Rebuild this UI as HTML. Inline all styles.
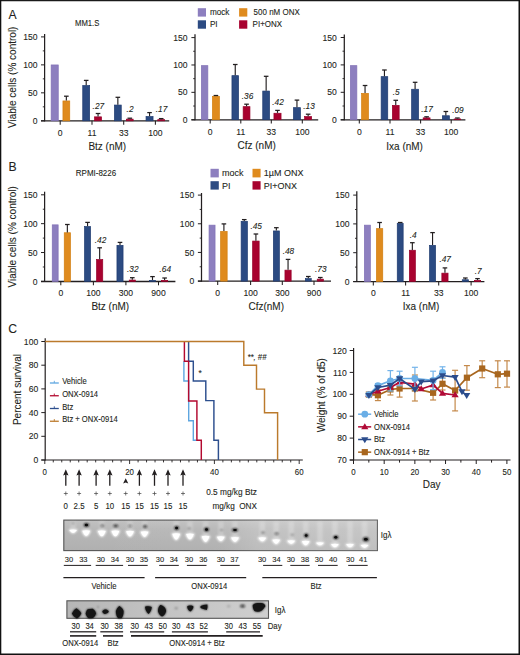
<!DOCTYPE html><html><head><meta charset="utf-8"><style>html,body{margin:0;padding:0;background:#fff;width:520px;height:655px;overflow:hidden;}svg{display:block;font-family:"Liberation Sans",sans-serif;}</style></head><body><svg width="520" height="655" viewBox="0 0 520 655" font-family='"Liberation Sans", sans-serif'>
<defs><filter id="bl1" x="-50%" y="-50%" width="200%" height="200%"><feGaussianBlur stdDeviation="0.9"/></filter><filter id="bl2" x="-50%" y="-50%" width="200%" height="200%"><feGaussianBlur stdDeviation="0.8"/></filter><filter id="bl3" x="-50%" y="-50%" width="200%" height="200%"><feGaussianBlur stdDeviation="0.8"/></filter><linearGradient id="g1" x1="0" y1="0" x2="0" y2="1"><stop offset="0" stop-color="#c2c2c2"/><stop offset="0.3" stop-color="#b8b8b8"/><stop offset="1" stop-color="#b0b0b0"/></linearGradient><linearGradient id="g1h" x1="0" y1="0" x2="1" y2="0"><stop offset="0" stop-color="#fff" stop-opacity="0"/><stop offset="0.5" stop-color="#fff" stop-opacity="0.02"/><stop offset="0.62" stop-color="#fff" stop-opacity="0.16"/><stop offset="1" stop-color="#fff" stop-opacity="0.2"/></linearGradient><linearGradient id="g2" x1="0" y1="0" x2="1" y2="0"><stop offset="0" stop-color="#b6b6b6"/><stop offset="0.5" stop-color="#c4c4c4"/><stop offset="1" stop-color="#cecece"/></linearGradient></defs>
<rect x="0.00" y="0.00" width="520.00" height="655.00" fill="#ffffff" />
<text transform="translate(8.40,18.80) scale(0.9434,1)" font-size="12.93" text-anchor="start" fill="#231F20" stroke="#231F20" stroke-width="0.1" >A</text>
<text transform="translate(8.40,170.90) scale(0.9434,1)" font-size="12.93" text-anchor="start" fill="#231F20" stroke="#231F20" stroke-width="0.1" >B</text>
<text transform="translate(8.20,333.10) scale(0.9434,1)" font-size="12.93" text-anchor="start" fill="#231F20" stroke="#231F20" stroke-width="0.1" >C</text>
<text transform="translate(75.00,25.60) scale(0.9259,1)" font-size="8.32" text-anchor="start" fill="#231F20" stroke="#231F20" stroke-width="0.1" >MM1.S</text>
<text x="0" y="0" font-size="10.60" text-anchor="middle" fill="#231F20" stroke="#231F20" stroke-width="0.1" transform="translate(15.60,77.30) rotate(-90) scale(0.9434,1)">Viable cells (% control)</text>
<rect x="197.80" y="8.20" width="8.20" height="8.40" fill="#8D7FBF" />
<text transform="translate(209.90,15.00) scale(0.9259,1)" font-size="8.86" text-anchor="start" fill="#231F20" stroke="#231F20" stroke-width="0.1" >mock</text>
<rect x="197.80" y="20.30" width="8.20" height="8.40" fill="#2C4B82" />
<text transform="translate(209.90,27.00) scale(0.9259,1)" font-size="8.86" text-anchor="start" fill="#231F20" stroke="#231F20" stroke-width="0.1" >PI</text>
<rect x="239.10" y="8.20" width="8.20" height="8.40" fill="#DF8B1E" />
<text transform="translate(253.60,15.00) scale(0.9259,1)" font-size="8.64" text-anchor="start" fill="#231F20" stroke="#231F20" stroke-width="0.1" >500 nM ONX</text>
<rect x="239.10" y="20.30" width="8.20" height="8.40" fill="#A8022F" />
<text transform="translate(252.60,27.00) scale(0.9259,1)" font-size="8.64" text-anchor="start" fill="#231F20" stroke="#231F20" stroke-width="0.1" >PI+ONX</text>
<line x1="44.60" y1="34.00" x2="44.60" y2="121.40" stroke="#231F20" stroke-width="1.25" />
<line x1="41.00" y1="120.90" x2="169.20" y2="120.90" stroke="#231F20" stroke-width="1.3" />
<line x1="41.00" y1="120.80" x2="44.60" y2="120.80" stroke="#231F20" stroke-width="1.0" />
<text transform="translate(37.60,123.90) scale(0.9259,1)" font-size="9.29" text-anchor="end" fill="#231F20" stroke="#231F20" stroke-width="0.1" >0</text>
<line x1="41.00" y1="92.83" x2="44.60" y2="92.83" stroke="#231F20" stroke-width="1.0" />
<text transform="translate(37.60,95.93) scale(0.9259,1)" font-size="9.29" text-anchor="end" fill="#231F20" stroke="#231F20" stroke-width="0.1" >50</text>
<line x1="41.00" y1="64.87" x2="44.60" y2="64.87" stroke="#231F20" stroke-width="1.0" />
<text transform="translate(37.60,67.97) scale(0.9259,1)" font-size="9.29" text-anchor="end" fill="#231F20" stroke="#231F20" stroke-width="0.1" >100</text>
<line x1="41.00" y1="36.90" x2="44.60" y2="36.90" stroke="#231F20" stroke-width="1.0" />
<text transform="translate(37.60,40.00) scale(0.9259,1)" font-size="9.29" text-anchor="end" fill="#231F20" stroke="#231F20" stroke-width="0.1" >150</text>
<line x1="42.80" y1="106.82" x2="44.60" y2="106.82" stroke="#231F20" stroke-width="0.9" />
<line x1="42.80" y1="78.85" x2="44.60" y2="78.85" stroke="#231F20" stroke-width="0.9" />
<line x1="42.80" y1="50.88" x2="44.60" y2="50.88" stroke="#231F20" stroke-width="0.9" />
<line x1="60.20" y1="120.80" x2="60.20" y2="124.70" stroke="#231F20" stroke-width="1.05" />
<line x1="92.00" y1="120.80" x2="92.00" y2="124.70" stroke="#231F20" stroke-width="1.05" />
<line x1="123.70" y1="120.80" x2="123.70" y2="124.70" stroke="#231F20" stroke-width="1.05" />
<line x1="155.40" y1="120.80" x2="155.40" y2="124.70" stroke="#231F20" stroke-width="1.05" />
<rect x="51.15" y="64.95" width="7.10" height="55.85" fill="#8D7FBF" stroke="#8171B6" stroke-width="0.7"/>
<rect x="62.95" y="100.95" width="6.80" height="19.85" fill="#DF8B1E" stroke="#D27E0E" stroke-width="0.7"/>
<line x1="66.35" y1="96.20" x2="66.35" y2="100.60" stroke="#231F20" stroke-width="1.15" />
<line x1="64.05" y1="96.20" x2="68.65" y2="96.20" stroke="#231F20" stroke-width="1.265" />
<rect x="82.75" y="85.55" width="6.90" height="35.25" fill="#2C4B82" stroke="#1F3B70" stroke-width="0.7"/>
<line x1="86.20" y1="80.40" x2="86.20" y2="85.20" stroke="#231F20" stroke-width="1.15" />
<line x1="83.90" y1="80.40" x2="88.50" y2="80.40" stroke="#231F20" stroke-width="1.265" />
<rect x="94.55" y="116.85" width="7.00" height="3.95" fill="#A8022F" stroke="#96002A" stroke-width="0.7"/>
<line x1="98.05" y1="113.50" x2="98.05" y2="116.50" stroke="#231F20" stroke-width="1.15" />
<line x1="95.75" y1="113.50" x2="100.35" y2="113.50" stroke="#231F20" stroke-width="1.265" />
<rect x="114.45" y="105.05" width="6.80" height="15.75" fill="#2C4B82" stroke="#1F3B70" stroke-width="0.7"/>
<line x1="117.85" y1="97.30" x2="117.85" y2="104.70" stroke="#231F20" stroke-width="1.15" />
<line x1="115.55" y1="97.30" x2="120.15" y2="97.30" stroke="#231F20" stroke-width="1.265" />
<rect x="126.45" y="119.15" width="6.70" height="1.65" fill="#A8022F" stroke="#96002A" stroke-width="0.7"/>
<line x1="129.80" y1="118.20" x2="129.80" y2="118.80" stroke="#231F20" stroke-width="1.15" />
<line x1="127.50" y1="118.20" x2="132.10" y2="118.20" stroke="#231F20" stroke-width="1.265" />
<rect x="146.05" y="116.55" width="7.00" height="4.25" fill="#2C4B82" stroke="#1F3B70" stroke-width="0.7"/>
<line x1="149.55" y1="112.60" x2="149.55" y2="116.20" stroke="#231F20" stroke-width="1.15" />
<line x1="147.25" y1="112.60" x2="151.85" y2="112.60" stroke="#231F20" stroke-width="1.265" />
<rect x="157.75" y="119.65" width="6.90" height="1.15" fill="#A8022F" stroke="#96002A" stroke-width="0.7"/>
<line x1="161.20" y1="118.60" x2="161.20" y2="119.30" stroke="#231F20" stroke-width="1.15" />
<line x1="158.90" y1="118.60" x2="163.50" y2="118.60" stroke="#231F20" stroke-width="1.265" />
<text transform="translate(92.60,108.60) scale(0.9259,1)" font-size="8.96" text-anchor="start" fill="#231F20" stroke="#231F20" stroke-width="0.1" font-style="italic">.27</text>
<text transform="translate(126.60,112.30) scale(0.9259,1)" font-size="8.96" text-anchor="start" fill="#231F20" stroke="#231F20" stroke-width="0.1" font-style="italic">.2</text>
<text transform="translate(155.80,112.30) scale(0.9259,1)" font-size="8.96" text-anchor="start" fill="#231F20" stroke="#231F20" stroke-width="0.1" font-style="italic">.17</text>
<text transform="translate(60.20,135.80) scale(0.9259,1)" font-size="9.29" text-anchor="middle" fill="#231F20" stroke="#231F20" stroke-width="0.1" >0</text>
<text transform="translate(92.00,135.80) scale(0.9259,1)" font-size="9.29" text-anchor="middle" fill="#231F20" stroke="#231F20" stroke-width="0.1" >11</text>
<text transform="translate(123.70,135.80) scale(0.9259,1)" font-size="9.29" text-anchor="middle" fill="#231F20" stroke="#231F20" stroke-width="0.1" >33</text>
<text transform="translate(155.40,135.80) scale(0.9259,1)" font-size="9.29" text-anchor="middle" fill="#231F20" stroke="#231F20" stroke-width="0.1" >100</text>
<text transform="translate(88.40,149.90) scale(0.9434,1)" font-size="10.60" text-anchor="start" fill="#231F20" stroke="#231F20" stroke-width="0.1" >Btz (nM)</text>
<line x1="195.00" y1="34.20" x2="195.00" y2="120.30" stroke="#231F20" stroke-width="1.25" />
<line x1="191.40" y1="119.80" x2="318.20" y2="119.80" stroke="#231F20" stroke-width="1.3" />
<line x1="191.40" y1="119.70" x2="195.00" y2="119.70" stroke="#231F20" stroke-width="1.0" />
<text transform="translate(187.60,122.80) scale(0.9259,1)" font-size="9.29" text-anchor="end" fill="#231F20" stroke="#231F20" stroke-width="0.1" >0</text>
<line x1="191.40" y1="92.33" x2="195.00" y2="92.33" stroke="#231F20" stroke-width="1.0" />
<text transform="translate(187.60,95.43) scale(0.9259,1)" font-size="9.29" text-anchor="end" fill="#231F20" stroke="#231F20" stroke-width="0.1" >50</text>
<line x1="191.40" y1="64.97" x2="195.00" y2="64.97" stroke="#231F20" stroke-width="1.0" />
<text transform="translate(187.60,68.07) scale(0.9259,1)" font-size="9.29" text-anchor="end" fill="#231F20" stroke="#231F20" stroke-width="0.1" >100</text>
<line x1="191.40" y1="37.60" x2="195.00" y2="37.60" stroke="#231F20" stroke-width="1.0" />
<text transform="translate(187.60,40.70) scale(0.9259,1)" font-size="9.29" text-anchor="end" fill="#231F20" stroke="#231F20" stroke-width="0.1" >150</text>
<line x1="193.20" y1="106.02" x2="195.00" y2="106.02" stroke="#231F20" stroke-width="0.9" />
<line x1="193.20" y1="78.65" x2="195.00" y2="78.65" stroke="#231F20" stroke-width="0.9" />
<line x1="193.20" y1="51.28" x2="195.00" y2="51.28" stroke="#231F20" stroke-width="0.9" />
<line x1="210.20" y1="119.70" x2="210.20" y2="123.60" stroke="#231F20" stroke-width="1.05" />
<line x1="240.80" y1="119.70" x2="240.80" y2="123.60" stroke="#231F20" stroke-width="1.05" />
<line x1="271.30" y1="119.70" x2="271.30" y2="123.60" stroke="#231F20" stroke-width="1.05" />
<line x1="302.30" y1="119.70" x2="302.30" y2="123.60" stroke="#231F20" stroke-width="1.05" />
<rect x="201.35" y="65.65" width="6.50" height="54.05" fill="#8D7FBF" stroke="#8171B6" stroke-width="0.7"/>
<rect x="212.45" y="96.35" width="6.90" height="23.35" fill="#DF8B1E" stroke="#D27E0E" stroke-width="0.7"/>
<line x1="215.90" y1="95.50" x2="215.90" y2="96.00" stroke="#231F20" stroke-width="1.15" />
<line x1="213.60" y1="95.50" x2="218.20" y2="95.50" stroke="#231F20" stroke-width="1.265" />
<rect x="231.95" y="75.65" width="6.60" height="44.05" fill="#2C4B82" stroke="#1F3B70" stroke-width="0.7"/>
<line x1="235.25" y1="64.50" x2="235.25" y2="75.30" stroke="#231F20" stroke-width="1.15" />
<line x1="232.95" y1="64.50" x2="237.55" y2="64.50" stroke="#231F20" stroke-width="1.265" />
<rect x="243.15" y="106.65" width="6.80" height="13.05" fill="#A8022F" stroke="#96002A" stroke-width="0.7"/>
<line x1="246.55" y1="104.20" x2="246.55" y2="106.30" stroke="#231F20" stroke-width="1.15" />
<line x1="244.25" y1="104.20" x2="248.85" y2="104.20" stroke="#231F20" stroke-width="1.265" />
<rect x="262.75" y="91.05" width="6.80" height="28.65" fill="#2C4B82" stroke="#1F3B70" stroke-width="0.7"/>
<line x1="266.15" y1="76.30" x2="266.15" y2="90.70" stroke="#231F20" stroke-width="1.15" />
<line x1="263.85" y1="76.30" x2="268.45" y2="76.30" stroke="#231F20" stroke-width="1.265" />
<rect x="273.95" y="113.25" width="7.10" height="6.45" fill="#A8022F" stroke="#96002A" stroke-width="0.7"/>
<line x1="277.50" y1="110.40" x2="277.50" y2="112.90" stroke="#231F20" stroke-width="1.15" />
<line x1="275.20" y1="110.40" x2="279.80" y2="110.40" stroke="#231F20" stroke-width="1.265" />
<rect x="293.45" y="107.65" width="7.00" height="12.05" fill="#2C4B82" stroke="#1F3B70" stroke-width="0.7"/>
<line x1="296.95" y1="100.10" x2="296.95" y2="107.30" stroke="#231F20" stroke-width="1.15" />
<line x1="294.65" y1="100.10" x2="299.25" y2="100.10" stroke="#231F20" stroke-width="1.265" />
<rect x="304.65" y="116.55" width="7.00" height="3.15" fill="#A8022F" stroke="#96002A" stroke-width="0.7"/>
<line x1="308.15" y1="114.20" x2="308.15" y2="116.20" stroke="#231F20" stroke-width="1.15" />
<line x1="305.85" y1="114.20" x2="310.45" y2="114.20" stroke="#231F20" stroke-width="1.265" />
<text transform="translate(241.80,98.80) scale(0.9259,1)" font-size="8.96" text-anchor="start" fill="#231F20" stroke="#231F20" stroke-width="0.1" font-style="italic">.36</text>
<text transform="translate(272.30,105.00) scale(0.9259,1)" font-size="8.96" text-anchor="start" fill="#231F20" stroke="#231F20" stroke-width="0.1" font-style="italic">.42</text>
<text transform="translate(303.30,109.00) scale(0.9259,1)" font-size="8.96" text-anchor="start" fill="#231F20" stroke="#231F20" stroke-width="0.1" font-style="italic">.13</text>
<text transform="translate(210.20,134.60) scale(0.9259,1)" font-size="9.29" text-anchor="middle" fill="#231F20" stroke="#231F20" stroke-width="0.1" >0</text>
<text transform="translate(240.80,134.60) scale(0.9259,1)" font-size="9.29" text-anchor="middle" fill="#231F20" stroke="#231F20" stroke-width="0.1" >11</text>
<text transform="translate(271.30,134.60) scale(0.9259,1)" font-size="9.29" text-anchor="middle" fill="#231F20" stroke="#231F20" stroke-width="0.1" >33</text>
<text transform="translate(302.30,134.60) scale(0.9259,1)" font-size="9.29" text-anchor="middle" fill="#231F20" stroke="#231F20" stroke-width="0.1" >100</text>
<text transform="translate(237.50,148.90) scale(0.9434,1)" font-size="10.60" text-anchor="start" fill="#231F20" stroke="#231F20" stroke-width="0.1" >Cfz (nM)</text>
<line x1="344.30" y1="34.50" x2="344.30" y2="120.30" stroke="#231F20" stroke-width="1.25" />
<line x1="340.70" y1="119.80" x2="465.40" y2="119.80" stroke="#231F20" stroke-width="1.3" />
<line x1="340.70" y1="119.70" x2="344.30" y2="119.70" stroke="#231F20" stroke-width="1.0" />
<text transform="translate(336.90,122.80) scale(0.9259,1)" font-size="9.29" text-anchor="end" fill="#231F20" stroke="#231F20" stroke-width="0.1" >0</text>
<line x1="340.70" y1="92.30" x2="344.30" y2="92.30" stroke="#231F20" stroke-width="1.0" />
<text transform="translate(336.90,95.40) scale(0.9259,1)" font-size="9.29" text-anchor="end" fill="#231F20" stroke="#231F20" stroke-width="0.1" >50</text>
<line x1="340.70" y1="64.90" x2="344.30" y2="64.90" stroke="#231F20" stroke-width="1.0" />
<text transform="translate(336.90,68.00) scale(0.9259,1)" font-size="9.29" text-anchor="end" fill="#231F20" stroke="#231F20" stroke-width="0.1" >100</text>
<line x1="340.70" y1="37.50" x2="344.30" y2="37.50" stroke="#231F20" stroke-width="1.0" />
<text transform="translate(336.90,40.60) scale(0.9259,1)" font-size="9.29" text-anchor="end" fill="#231F20" stroke="#231F20" stroke-width="0.1" >150</text>
<line x1="342.50" y1="106.00" x2="344.30" y2="106.00" stroke="#231F20" stroke-width="0.9" />
<line x1="342.50" y1="78.60" x2="344.30" y2="78.60" stroke="#231F20" stroke-width="0.9" />
<line x1="342.50" y1="51.20" x2="344.30" y2="51.20" stroke="#231F20" stroke-width="0.9" />
<line x1="359.30" y1="119.70" x2="359.30" y2="123.60" stroke="#231F20" stroke-width="1.05" />
<line x1="390.00" y1="119.70" x2="390.00" y2="123.60" stroke="#231F20" stroke-width="1.05" />
<line x1="420.60" y1="119.70" x2="420.60" y2="123.60" stroke="#231F20" stroke-width="1.05" />
<line x1="451.20" y1="119.70" x2="451.20" y2="123.60" stroke="#231F20" stroke-width="1.05" />
<rect x="350.35" y="65.65" width="6.50" height="54.05" fill="#8D7FBF" stroke="#8171B6" stroke-width="0.7"/>
<rect x="361.65" y="93.35" width="6.80" height="26.35" fill="#DF8B1E" stroke="#D27E0E" stroke-width="0.7"/>
<line x1="365.05" y1="85.50" x2="365.05" y2="93.00" stroke="#231F20" stroke-width="1.15" />
<line x1="362.75" y1="85.50" x2="367.35" y2="85.50" stroke="#231F20" stroke-width="1.265" />
<rect x="381.15" y="76.65" width="6.60" height="43.05" fill="#2C4B82" stroke="#1F3B70" stroke-width="0.7"/>
<line x1="384.45" y1="70.00" x2="384.45" y2="76.30" stroke="#231F20" stroke-width="1.15" />
<line x1="382.15" y1="70.00" x2="386.75" y2="70.00" stroke="#231F20" stroke-width="1.265" />
<rect x="392.35" y="105.35" width="6.80" height="14.35" fill="#A8022F" stroke="#96002A" stroke-width="0.7"/>
<line x1="395.75" y1="100.30" x2="395.75" y2="105.00" stroke="#231F20" stroke-width="1.15" />
<line x1="393.45" y1="100.30" x2="398.05" y2="100.30" stroke="#231F20" stroke-width="1.265" />
<rect x="411.65" y="89.25" width="6.90" height="30.45" fill="#2C4B82" stroke="#1F3B70" stroke-width="0.7"/>
<line x1="415.10" y1="82.30" x2="415.10" y2="88.90" stroke="#231F20" stroke-width="1.15" />
<line x1="412.80" y1="82.30" x2="417.40" y2="82.30" stroke="#231F20" stroke-width="1.265" />
<rect x="423.15" y="117.85" width="6.90" height="1.85" fill="#A8022F" stroke="#96002A" stroke-width="0.7"/>
<line x1="426.60" y1="116.80" x2="426.60" y2="117.50" stroke="#231F20" stroke-width="1.15" />
<line x1="424.30" y1="116.80" x2="428.90" y2="116.80" stroke="#231F20" stroke-width="1.265" />
<rect x="442.35" y="115.75" width="7.00" height="3.95" fill="#2C4B82" stroke="#1F3B70" stroke-width="0.7"/>
<line x1="445.85" y1="111.50" x2="445.85" y2="115.40" stroke="#231F20" stroke-width="1.15" />
<line x1="443.55" y1="111.50" x2="448.15" y2="111.50" stroke="#231F20" stroke-width="1.265" />
<rect x="454.15" y="118.95" width="6.50" height="0.75" fill="#A8022F" stroke="#96002A" stroke-width="0.7"/>
<line x1="457.40" y1="118.00" x2="457.40" y2="118.60" stroke="#231F20" stroke-width="1.15" />
<line x1="455.10" y1="118.00" x2="459.70" y2="118.00" stroke="#231F20" stroke-width="1.265" />
<text transform="translate(392.80,95.00) scale(0.9259,1)" font-size="8.96" text-anchor="start" fill="#231F20" stroke="#231F20" stroke-width="0.1" font-style="italic">.5</text>
<text transform="translate(421.30,112.30) scale(0.9259,1)" font-size="8.96" text-anchor="start" fill="#231F20" stroke="#231F20" stroke-width="0.1" font-style="italic">.17</text>
<text transform="translate(452.20,113.00) scale(0.9259,1)" font-size="8.96" text-anchor="start" fill="#231F20" stroke="#231F20" stroke-width="0.1" font-style="italic">.09</text>
<text transform="translate(359.30,134.60) scale(0.9259,1)" font-size="9.29" text-anchor="middle" fill="#231F20" stroke="#231F20" stroke-width="0.1" >0</text>
<text transform="translate(390.00,134.60) scale(0.9259,1)" font-size="9.29" text-anchor="middle" fill="#231F20" stroke="#231F20" stroke-width="0.1" >11</text>
<text transform="translate(420.60,134.60) scale(0.9259,1)" font-size="9.29" text-anchor="middle" fill="#231F20" stroke="#231F20" stroke-width="0.1" >33</text>
<text transform="translate(451.20,134.60) scale(0.9259,1)" font-size="9.29" text-anchor="middle" fill="#231F20" stroke="#231F20" stroke-width="0.1" >100</text>
<text transform="translate(386.30,149.50) scale(0.9434,1)" font-size="10.60" text-anchor="start" fill="#231F20" stroke="#231F20" stroke-width="0.1" >Ixa (nM)</text>
<text transform="translate(75.80,176.00) scale(0.9259,1)" font-size="8.64" text-anchor="start" fill="#231F20" stroke="#231F20" stroke-width="0.1" >RPMI-8226</text>
<text x="0" y="0" font-size="10.60" text-anchor="middle" fill="#231F20" stroke="#231F20" stroke-width="0.1" transform="translate(15.60,236.80) rotate(-90) scale(0.9434,1)">Viable cells (% control)</text>
<rect x="210.50" y="168.80" width="8.30" height="8.60" fill="#8D7FBF" />
<text transform="translate(222.00,176.40) scale(0.9259,1)" font-size="9.72" text-anchor="start" fill="#231F20" stroke="#231F20" stroke-width="0.1" >mock</text>
<rect x="210.50" y="181.20" width="8.30" height="8.40" fill="#2C4B82" />
<text transform="translate(222.00,188.80) scale(0.9259,1)" font-size="9.72" text-anchor="start" fill="#231F20" stroke="#231F20" stroke-width="0.1" >PI</text>
<rect x="252.50" y="168.80" width="8.10" height="8.60" fill="#DF8B1E" />
<text transform="translate(263.80,176.40) scale(0.9259,1)" font-size="9.72" text-anchor="start" fill="#231F20" stroke="#231F20" stroke-width="0.1" >1µM ONX</text>
<rect x="252.50" y="181.20" width="8.10" height="8.40" fill="#A8022F" />
<text transform="translate(263.80,188.80) scale(0.9259,1)" font-size="9.72" text-anchor="start" fill="#231F20" stroke="#231F20" stroke-width="0.1" >PI+ONX</text>
<line x1="44.60" y1="191.70" x2="44.60" y2="282.00" stroke="#231F20" stroke-width="1.25" />
<line x1="41.00" y1="281.50" x2="175.40" y2="281.50" stroke="#231F20" stroke-width="1.3" />
<line x1="41.00" y1="281.40" x2="44.60" y2="281.40" stroke="#231F20" stroke-width="1.0" />
<text transform="translate(37.60,284.50) scale(0.9259,1)" font-size="9.29" text-anchor="end" fill="#231F20" stroke="#231F20" stroke-width="0.1" >0</text>
<line x1="41.00" y1="252.53" x2="44.60" y2="252.53" stroke="#231F20" stroke-width="1.0" />
<text transform="translate(37.60,255.63) scale(0.9259,1)" font-size="9.29" text-anchor="end" fill="#231F20" stroke="#231F20" stroke-width="0.1" >50</text>
<line x1="41.00" y1="223.67" x2="44.60" y2="223.67" stroke="#231F20" stroke-width="1.0" />
<text transform="translate(37.60,226.77) scale(0.9259,1)" font-size="9.29" text-anchor="end" fill="#231F20" stroke="#231F20" stroke-width="0.1" >100</text>
<line x1="41.00" y1="194.80" x2="44.60" y2="194.80" stroke="#231F20" stroke-width="1.0" />
<text transform="translate(37.60,197.90) scale(0.9259,1)" font-size="9.29" text-anchor="end" fill="#231F20" stroke="#231F20" stroke-width="0.1" >150</text>
<line x1="42.80" y1="266.97" x2="44.60" y2="266.97" stroke="#231F20" stroke-width="0.9" />
<line x1="42.80" y1="238.10" x2="44.60" y2="238.10" stroke="#231F20" stroke-width="0.9" />
<line x1="42.80" y1="209.23" x2="44.60" y2="209.23" stroke="#231F20" stroke-width="0.9" />
<line x1="60.80" y1="281.40" x2="60.80" y2="285.30" stroke="#231F20" stroke-width="1.05" />
<line x1="93.40" y1="281.40" x2="93.40" y2="285.30" stroke="#231F20" stroke-width="1.05" />
<line x1="125.90" y1="281.40" x2="125.90" y2="285.30" stroke="#231F20" stroke-width="1.05" />
<line x1="158.50" y1="281.40" x2="158.50" y2="285.30" stroke="#231F20" stroke-width="1.05" />
<rect x="52.25" y="224.85" width="5.90" height="56.55" fill="#8D7FBF" stroke="#8171B6" stroke-width="0.7"/>
<rect x="64.25" y="232.75" width="6.20" height="48.65" fill="#DF8B1E" stroke="#D27E0E" stroke-width="0.7"/>
<line x1="67.35" y1="224.50" x2="67.35" y2="232.40" stroke="#231F20" stroke-width="1.15" />
<line x1="65.05" y1="224.50" x2="69.65" y2="224.50" stroke="#231F20" stroke-width="1.265" />
<rect x="84.55" y="226.55" width="6.00" height="54.85" fill="#2C4B82" stroke="#1F3B70" stroke-width="0.7"/>
<line x1="87.55" y1="222.40" x2="87.55" y2="226.20" stroke="#231F20" stroke-width="1.15" />
<line x1="85.25" y1="222.40" x2="89.85" y2="222.40" stroke="#231F20" stroke-width="1.265" />
<rect x="96.55" y="259.55" width="6.20" height="21.85" fill="#A8022F" stroke="#96002A" stroke-width="0.7"/>
<line x1="99.65" y1="247.80" x2="99.65" y2="259.20" stroke="#231F20" stroke-width="1.15" />
<line x1="97.35" y1="247.80" x2="101.95" y2="247.80" stroke="#231F20" stroke-width="1.265" />
<rect x="116.95" y="245.35" width="6.10" height="36.05" fill="#2C4B82" stroke="#1F3B70" stroke-width="0.7"/>
<line x1="120.00" y1="242.40" x2="120.00" y2="245.00" stroke="#231F20" stroke-width="1.15" />
<line x1="117.70" y1="242.40" x2="122.30" y2="242.40" stroke="#231F20" stroke-width="1.265" />
<rect x="129.25" y="280.05" width="6.10" height="1.35" fill="#A8022F" stroke="#96002A" stroke-width="0.7"/>
<line x1="132.30" y1="277.70" x2="132.30" y2="279.70" stroke="#231F20" stroke-width="1.15" />
<line x1="130.00" y1="277.70" x2="134.60" y2="277.70" stroke="#231F20" stroke-width="1.265" />
<rect x="149.55" y="280.35" width="5.90" height="1.05" fill="#2C4B82" stroke="#1F3B70" stroke-width="0.7"/>
<line x1="152.50" y1="276.60" x2="152.50" y2="280.00" stroke="#231F20" stroke-width="1.15" />
<line x1="150.20" y1="276.60" x2="154.80" y2="276.60" stroke="#231F20" stroke-width="1.265" />
<rect x="161.55" y="280.35" width="6.10" height="1.05" fill="#A8022F" stroke="#96002A" stroke-width="0.7"/>
<line x1="164.60" y1="278.00" x2="164.60" y2="280.00" stroke="#231F20" stroke-width="1.15" />
<line x1="162.30" y1="278.00" x2="166.90" y2="278.00" stroke="#231F20" stroke-width="1.265" />
<text transform="translate(94.80,242.70) scale(0.9259,1)" font-size="8.96" text-anchor="start" fill="#231F20" stroke="#231F20" stroke-width="0.1" font-style="italic">.42</text>
<text transform="translate(127.00,272.30) scale(0.9259,1)" font-size="8.96" text-anchor="start" fill="#231F20" stroke="#231F20" stroke-width="0.1" font-style="italic">.32</text>
<text transform="translate(159.50,272.30) scale(0.9259,1)" font-size="8.96" text-anchor="start" fill="#231F20" stroke="#231F20" stroke-width="0.1" font-style="italic">.64</text>
<text transform="translate(60.80,296.10) scale(0.9259,1)" font-size="9.29" text-anchor="middle" fill="#231F20" stroke="#231F20" stroke-width="0.1" >0</text>
<text transform="translate(93.40,296.10) scale(0.9259,1)" font-size="9.29" text-anchor="middle" fill="#231F20" stroke="#231F20" stroke-width="0.1" >100</text>
<text transform="translate(125.90,296.10) scale(0.9259,1)" font-size="9.29" text-anchor="middle" fill="#231F20" stroke="#231F20" stroke-width="0.1" >300</text>
<text transform="translate(158.50,296.10) scale(0.9259,1)" font-size="9.29" text-anchor="middle" fill="#231F20" stroke="#231F20" stroke-width="0.1" >900</text>
<text transform="translate(91.40,310.20) scale(0.9434,1)" font-size="10.60" text-anchor="start" fill="#231F20" stroke="#231F20" stroke-width="0.1" >Btz (nM)</text>
<line x1="201.50" y1="193.00" x2="201.50" y2="281.70" stroke="#231F20" stroke-width="1.25" />
<line x1="197.90" y1="281.20" x2="331.00" y2="281.20" stroke="#231F20" stroke-width="1.3" />
<line x1="197.90" y1="281.10" x2="201.50" y2="281.10" stroke="#231F20" stroke-width="1.0" />
<text transform="translate(194.20,284.20) scale(0.9259,1)" font-size="9.29" text-anchor="end" fill="#231F20" stroke="#231F20" stroke-width="0.1" >0</text>
<line x1="197.90" y1="252.43" x2="201.50" y2="252.43" stroke="#231F20" stroke-width="1.0" />
<text transform="translate(194.20,255.53) scale(0.9259,1)" font-size="9.29" text-anchor="end" fill="#231F20" stroke="#231F20" stroke-width="0.1" >50</text>
<line x1="197.90" y1="223.77" x2="201.50" y2="223.77" stroke="#231F20" stroke-width="1.0" />
<text transform="translate(194.20,226.87) scale(0.9259,1)" font-size="9.29" text-anchor="end" fill="#231F20" stroke="#231F20" stroke-width="0.1" >100</text>
<line x1="197.90" y1="195.10" x2="201.50" y2="195.10" stroke="#231F20" stroke-width="1.0" />
<text transform="translate(194.20,198.20) scale(0.9259,1)" font-size="9.29" text-anchor="end" fill="#231F20" stroke="#231F20" stroke-width="0.1" >150</text>
<line x1="199.70" y1="266.77" x2="201.50" y2="266.77" stroke="#231F20" stroke-width="0.9" />
<line x1="199.70" y1="238.10" x2="201.50" y2="238.10" stroke="#231F20" stroke-width="0.9" />
<line x1="199.70" y1="209.43" x2="201.50" y2="209.43" stroke="#231F20" stroke-width="0.9" />
<line x1="217.70" y1="281.10" x2="217.70" y2="285.00" stroke="#231F20" stroke-width="1.05" />
<line x1="250.60" y1="281.10" x2="250.60" y2="285.00" stroke="#231F20" stroke-width="1.05" />
<line x1="282.30" y1="281.10" x2="282.30" y2="285.00" stroke="#231F20" stroke-width="1.05" />
<line x1="314.00" y1="281.10" x2="314.00" y2="285.00" stroke="#231F20" stroke-width="1.05" />
<rect x="209.05" y="225.15" width="6.00" height="55.95" fill="#8D7FBF" stroke="#8171B6" stroke-width="0.7"/>
<rect x="220.65" y="231.45" width="6.50" height="49.65" fill="#DF8B1E" stroke="#D27E0E" stroke-width="0.7"/>
<line x1="223.90" y1="223.90" x2="223.90" y2="231.10" stroke="#231F20" stroke-width="1.15" />
<line x1="221.60" y1="223.90" x2="226.20" y2="223.90" stroke="#231F20" stroke-width="1.265" />
<rect x="241.15" y="221.35" width="6.20" height="59.75" fill="#2C4B82" stroke="#1F3B70" stroke-width="0.7"/>
<line x1="244.25" y1="219.60" x2="244.25" y2="221.00" stroke="#231F20" stroke-width="1.15" />
<line x1="241.95" y1="219.60" x2="246.55" y2="219.60" stroke="#231F20" stroke-width="1.265" />
<rect x="252.65" y="241.05" width="6.50" height="40.05" fill="#A8022F" stroke="#96002A" stroke-width="0.7"/>
<line x1="255.90" y1="234.00" x2="255.90" y2="240.70" stroke="#231F20" stroke-width="1.15" />
<line x1="253.60" y1="234.00" x2="258.20" y2="234.00" stroke="#231F20" stroke-width="1.265" />
<rect x="273.35" y="230.95" width="6.00" height="50.15" fill="#2C4B82" stroke="#1F3B70" stroke-width="0.7"/>
<line x1="276.35" y1="227.70" x2="276.35" y2="230.60" stroke="#231F20" stroke-width="1.15" />
<line x1="274.05" y1="227.70" x2="278.65" y2="227.70" stroke="#231F20" stroke-width="1.265" />
<rect x="284.95" y="270.15" width="6.20" height="10.95" fill="#A8022F" stroke="#96002A" stroke-width="0.7"/>
<line x1="288.05" y1="259.40" x2="288.05" y2="269.80" stroke="#231F20" stroke-width="1.15" />
<line x1="285.75" y1="259.40" x2="290.35" y2="259.40" stroke="#231F20" stroke-width="1.265" />
<rect x="305.35" y="278.65" width="5.90" height="2.45" fill="#2C4B82" stroke="#1F3B70" stroke-width="0.7"/>
<line x1="308.30" y1="276.50" x2="308.30" y2="278.30" stroke="#231F20" stroke-width="1.15" />
<line x1="306.00" y1="276.50" x2="310.60" y2="276.50" stroke="#231F20" stroke-width="1.265" />
<rect x="317.25" y="279.15" width="6.10" height="1.95" fill="#A8022F" stroke="#96002A" stroke-width="0.7"/>
<line x1="320.30" y1="277.50" x2="320.30" y2="278.80" stroke="#231F20" stroke-width="1.15" />
<line x1="318.00" y1="277.50" x2="322.60" y2="277.50" stroke="#231F20" stroke-width="1.265" />
<text transform="translate(250.40,228.80) scale(0.9259,1)" font-size="8.96" text-anchor="start" fill="#231F20" stroke="#231F20" stroke-width="0.1" font-style="italic">.45</text>
<text transform="translate(282.70,254.20) scale(0.9259,1)" font-size="8.96" text-anchor="start" fill="#231F20" stroke="#231F20" stroke-width="0.1" font-style="italic">.48</text>
<text transform="translate(315.00,272.10) scale(0.9259,1)" font-size="8.96" text-anchor="start" fill="#231F20" stroke="#231F20" stroke-width="0.1" font-style="italic">.73</text>
<text transform="translate(217.70,296.10) scale(0.9259,1)" font-size="9.29" text-anchor="middle" fill="#231F20" stroke="#231F20" stroke-width="0.1" >0</text>
<text transform="translate(250.60,296.10) scale(0.9259,1)" font-size="9.29" text-anchor="middle" fill="#231F20" stroke="#231F20" stroke-width="0.1" >100</text>
<text transform="translate(282.30,296.10) scale(0.9259,1)" font-size="9.29" text-anchor="middle" fill="#231F20" stroke="#231F20" stroke-width="0.1" >300</text>
<text transform="translate(314.00,296.10) scale(0.9259,1)" font-size="9.29" text-anchor="middle" fill="#231F20" stroke="#231F20" stroke-width="0.1" >900</text>
<text transform="translate(248.50,309.60) scale(0.9434,1)" font-size="10.60" text-anchor="start" fill="#231F20" stroke="#231F20" stroke-width="0.1" >Cfz(nM)</text>
<line x1="356.80" y1="191.30" x2="356.80" y2="282.10" stroke="#231F20" stroke-width="1.25" />
<line x1="353.20" y1="281.60" x2="484.40" y2="281.60" stroke="#231F20" stroke-width="1.3" />
<line x1="353.20" y1="281.50" x2="356.80" y2="281.50" stroke="#231F20" stroke-width="1.0" />
<text transform="translate(349.50,284.60) scale(0.9259,1)" font-size="9.29" text-anchor="end" fill="#231F20" stroke="#231F20" stroke-width="0.1" >0</text>
<line x1="353.20" y1="252.70" x2="356.80" y2="252.70" stroke="#231F20" stroke-width="1.0" />
<text transform="translate(349.50,255.80) scale(0.9259,1)" font-size="9.29" text-anchor="end" fill="#231F20" stroke="#231F20" stroke-width="0.1" >50</text>
<line x1="353.20" y1="223.90" x2="356.80" y2="223.90" stroke="#231F20" stroke-width="1.0" />
<text transform="translate(349.50,227.00) scale(0.9259,1)" font-size="9.29" text-anchor="end" fill="#231F20" stroke="#231F20" stroke-width="0.1" >100</text>
<line x1="353.20" y1="195.10" x2="356.80" y2="195.10" stroke="#231F20" stroke-width="1.0" />
<text transform="translate(349.50,198.20) scale(0.9259,1)" font-size="9.29" text-anchor="end" fill="#231F20" stroke="#231F20" stroke-width="0.1" >150</text>
<line x1="355.00" y1="267.10" x2="356.80" y2="267.10" stroke="#231F20" stroke-width="0.9" />
<line x1="355.00" y1="238.30" x2="356.80" y2="238.30" stroke="#231F20" stroke-width="0.9" />
<line x1="355.00" y1="209.50" x2="356.80" y2="209.50" stroke="#231F20" stroke-width="0.9" />
<line x1="373.30" y1="281.50" x2="373.30" y2="285.40" stroke="#231F20" stroke-width="1.05" />
<line x1="405.60" y1="281.50" x2="405.60" y2="285.40" stroke="#231F20" stroke-width="1.05" />
<line x1="438.70" y1="281.50" x2="438.70" y2="285.40" stroke="#231F20" stroke-width="1.05" />
<line x1="471.10" y1="281.50" x2="471.10" y2="285.40" stroke="#231F20" stroke-width="1.05" />
<rect x="364.35" y="225.15" width="6.00" height="56.35" fill="#8D7FBF" stroke="#8171B6" stroke-width="0.7"/>
<rect x="376.45" y="228.65" width="6.30" height="52.85" fill="#DF8B1E" stroke="#D27E0E" stroke-width="0.7"/>
<line x1="379.60" y1="222.50" x2="379.60" y2="228.30" stroke="#231F20" stroke-width="1.15" />
<line x1="377.30" y1="222.50" x2="381.90" y2="222.50" stroke="#231F20" stroke-width="1.265" />
<rect x="397.25" y="223.45" width="5.90" height="58.05" fill="#2C4B82" stroke="#1F3B70" stroke-width="0.7"/>
<line x1="400.20" y1="222.50" x2="400.20" y2="223.10" stroke="#231F20" stroke-width="1.15" />
<line x1="397.90" y1="222.50" x2="402.50" y2="222.50" stroke="#231F20" stroke-width="1.265" />
<rect x="409.35" y="250.25" width="6.00" height="31.25" fill="#A8022F" stroke="#96002A" stroke-width="0.7"/>
<line x1="412.35" y1="242.70" x2="412.35" y2="249.90" stroke="#231F20" stroke-width="1.15" />
<line x1="410.05" y1="242.70" x2="414.65" y2="242.70" stroke="#231F20" stroke-width="1.265" />
<rect x="429.55" y="245.35" width="6.00" height="36.15" fill="#2C4B82" stroke="#1F3B70" stroke-width="0.7"/>
<line x1="432.55" y1="232.60" x2="432.55" y2="245.00" stroke="#231F20" stroke-width="1.15" />
<line x1="430.25" y1="232.60" x2="434.85" y2="232.60" stroke="#231F20" stroke-width="1.265" />
<rect x="441.85" y="273.15" width="6.20" height="8.35" fill="#A8022F" stroke="#96002A" stroke-width="0.7"/>
<line x1="444.95" y1="267.90" x2="444.95" y2="272.80" stroke="#231F20" stroke-width="1.15" />
<line x1="442.65" y1="267.90" x2="447.25" y2="267.90" stroke="#231F20" stroke-width="1.265" />
<rect x="462.25" y="279.75" width="6.20" height="1.75" fill="#2C4B82" stroke="#1F3B70" stroke-width="0.7"/>
<line x1="465.35" y1="278.00" x2="465.35" y2="279.40" stroke="#231F20" stroke-width="1.15" />
<line x1="463.05" y1="278.00" x2="467.65" y2="278.00" stroke="#231F20" stroke-width="1.265" />
<rect x="474.35" y="280.35" width="6.30" height="1.15" fill="#A8022F" stroke="#96002A" stroke-width="0.7"/>
<line x1="477.50" y1="278.60" x2="477.50" y2="280.00" stroke="#231F20" stroke-width="1.15" />
<line x1="475.20" y1="278.60" x2="479.80" y2="278.60" stroke="#231F20" stroke-width="1.265" />
<text transform="translate(409.70,237.50) scale(0.9259,1)" font-size="8.96" text-anchor="start" fill="#231F20" stroke="#231F20" stroke-width="0.1" font-style="italic">.4</text>
<text transform="translate(439.40,262.30) scale(0.9259,1)" font-size="8.96" text-anchor="start" fill="#231F20" stroke="#231F20" stroke-width="0.1" font-style="italic">.47</text>
<text transform="translate(474.80,273.60) scale(0.9259,1)" font-size="8.96" text-anchor="start" fill="#231F20" stroke="#231F20" stroke-width="0.1" font-style="italic">.7</text>
<text transform="translate(373.30,296.00) scale(0.9259,1)" font-size="9.29" text-anchor="middle" fill="#231F20" stroke="#231F20" stroke-width="0.1" >0</text>
<text transform="translate(405.60,296.00) scale(0.9259,1)" font-size="9.29" text-anchor="middle" fill="#231F20" stroke="#231F20" stroke-width="0.1" >11</text>
<text transform="translate(438.70,296.00) scale(0.9259,1)" font-size="9.29" text-anchor="middle" fill="#231F20" stroke="#231F20" stroke-width="0.1" >33</text>
<text transform="translate(471.10,296.00) scale(0.9259,1)" font-size="9.29" text-anchor="middle" fill="#231F20" stroke="#231F20" stroke-width="0.1" >100</text>
<text transform="translate(402.70,309.60) scale(0.9434,1)" font-size="10.60" text-anchor="start" fill="#231F20" stroke="#231F20" stroke-width="0.1" >Ixa (nM)</text>
<line x1="45.20" y1="338.30" x2="45.20" y2="460.50" stroke="#231F20" stroke-width="1.2" />
<line x1="41.30" y1="460.00" x2="302.80" y2="460.00" stroke="#231F20" stroke-width="1.2" />
<line x1="41.30" y1="460.00" x2="45.20" y2="460.00" stroke="#231F20" stroke-width="1.0" />
<text transform="translate(38.20,463.10) scale(0.9259,1)" font-size="9.29" text-anchor="end" fill="#231F20" stroke="#231F20" stroke-width="0.1" >0</text>
<line x1="41.30" y1="436.30" x2="45.20" y2="436.30" stroke="#231F20" stroke-width="1.0" />
<text transform="translate(38.20,439.40) scale(0.9259,1)" font-size="9.29" text-anchor="end" fill="#231F20" stroke="#231F20" stroke-width="0.1" >20</text>
<line x1="41.30" y1="412.60" x2="45.20" y2="412.60" stroke="#231F20" stroke-width="1.0" />
<text transform="translate(38.20,415.70) scale(0.9259,1)" font-size="9.29" text-anchor="end" fill="#231F20" stroke="#231F20" stroke-width="0.1" >40</text>
<line x1="41.30" y1="388.90" x2="45.20" y2="388.90" stroke="#231F20" stroke-width="1.0" />
<text transform="translate(38.20,392.00) scale(0.9259,1)" font-size="9.29" text-anchor="end" fill="#231F20" stroke="#231F20" stroke-width="0.1" >60</text>
<line x1="41.30" y1="365.20" x2="45.20" y2="365.20" stroke="#231F20" stroke-width="1.0" />
<text transform="translate(38.20,368.30) scale(0.9259,1)" font-size="9.29" text-anchor="end" fill="#231F20" stroke="#231F20" stroke-width="0.1" >80</text>
<line x1="41.30" y1="341.50" x2="45.20" y2="341.50" stroke="#231F20" stroke-width="1.0" />
<text transform="translate(38.20,344.60) scale(0.9259,1)" font-size="9.29" text-anchor="end" fill="#231F20" stroke="#231F20" stroke-width="0.1" >100</text>
<line x1="44.80" y1="460.00" x2="44.80" y2="464.00" stroke="#231F20" stroke-width="0.9" />
<line x1="53.28" y1="460.00" x2="53.28" y2="462.40" stroke="#231F20" stroke-width="0.9" />
<line x1="61.76" y1="460.00" x2="61.76" y2="462.40" stroke="#231F20" stroke-width="0.9" />
<line x1="70.24" y1="460.00" x2="70.24" y2="462.40" stroke="#231F20" stroke-width="0.9" />
<line x1="78.72" y1="460.00" x2="78.72" y2="462.40" stroke="#231F20" stroke-width="0.9" />
<line x1="87.20" y1="460.00" x2="87.20" y2="462.40" stroke="#231F20" stroke-width="0.9" />
<line x1="95.68" y1="460.00" x2="95.68" y2="462.40" stroke="#231F20" stroke-width="0.9" />
<line x1="104.16" y1="460.00" x2="104.16" y2="462.40" stroke="#231F20" stroke-width="0.9" />
<line x1="112.64" y1="460.00" x2="112.64" y2="462.40" stroke="#231F20" stroke-width="0.9" />
<line x1="121.12" y1="460.00" x2="121.12" y2="462.40" stroke="#231F20" stroke-width="0.9" />
<line x1="129.60" y1="460.00" x2="129.60" y2="464.00" stroke="#231F20" stroke-width="0.9" />
<line x1="138.08" y1="460.00" x2="138.08" y2="462.40" stroke="#231F20" stroke-width="0.9" />
<line x1="146.56" y1="460.00" x2="146.56" y2="462.40" stroke="#231F20" stroke-width="0.9" />
<line x1="155.04" y1="460.00" x2="155.04" y2="462.40" stroke="#231F20" stroke-width="0.9" />
<line x1="163.52" y1="460.00" x2="163.52" y2="462.40" stroke="#231F20" stroke-width="0.9" />
<line x1="172.00" y1="460.00" x2="172.00" y2="462.40" stroke="#231F20" stroke-width="0.9" />
<line x1="180.48" y1="460.00" x2="180.48" y2="462.40" stroke="#231F20" stroke-width="0.9" />
<line x1="188.96" y1="460.00" x2="188.96" y2="462.40" stroke="#231F20" stroke-width="0.9" />
<line x1="197.44" y1="460.00" x2="197.44" y2="462.40" stroke="#231F20" stroke-width="0.9" />
<line x1="205.92" y1="460.00" x2="205.92" y2="462.40" stroke="#231F20" stroke-width="0.9" />
<line x1="214.40" y1="460.00" x2="214.40" y2="464.00" stroke="#231F20" stroke-width="0.9" />
<line x1="222.88" y1="460.00" x2="222.88" y2="462.40" stroke="#231F20" stroke-width="0.9" />
<line x1="231.36" y1="460.00" x2="231.36" y2="462.40" stroke="#231F20" stroke-width="0.9" />
<line x1="239.84" y1="460.00" x2="239.84" y2="462.40" stroke="#231F20" stroke-width="0.9" />
<line x1="248.32" y1="460.00" x2="248.32" y2="462.40" stroke="#231F20" stroke-width="0.9" />
<line x1="256.80" y1="460.00" x2="256.80" y2="462.40" stroke="#231F20" stroke-width="0.9" />
<line x1="265.28" y1="460.00" x2="265.28" y2="462.40" stroke="#231F20" stroke-width="0.9" />
<line x1="273.76" y1="460.00" x2="273.76" y2="462.40" stroke="#231F20" stroke-width="0.9" />
<line x1="282.24" y1="460.00" x2="282.24" y2="462.40" stroke="#231F20" stroke-width="0.9" />
<line x1="290.72" y1="460.00" x2="290.72" y2="462.40" stroke="#231F20" stroke-width="0.9" />
<line x1="299.20" y1="460.00" x2="299.20" y2="464.00" stroke="#231F20" stroke-width="0.9" />
<text transform="translate(44.80,474.80) scale(0.9259,1)" font-size="8.53" text-anchor="middle" fill="#231F20" stroke="#231F20" stroke-width="0.1" >0</text>
<text transform="translate(129.60,474.80) scale(0.9259,1)" font-size="8.53" text-anchor="middle" fill="#231F20" stroke="#231F20" stroke-width="0.1" >20</text>
<text transform="translate(214.40,474.80) scale(0.9259,1)" font-size="8.53" text-anchor="middle" fill="#231F20" stroke="#231F20" stroke-width="0.1" >40</text>
<text transform="translate(299.20,474.80) scale(0.9259,1)" font-size="8.53" text-anchor="middle" fill="#231F20" stroke="#231F20" stroke-width="0.1" >60</text>
<text x="0" y="0" font-size="10.60" text-anchor="middle" fill="#231F20" stroke="#231F20" stroke-width="0.1" transform="translate(21.30,389.50) rotate(-90) scale(0.9434,1)">Percent survival</text>
<path d="M183.9,361.2 V381.0 H188.7 V420.7 H193.3 V440.2 H197" fill="none" stroke="#5EA6E0" stroke-width="1.4"/>
<path d="M188.6,341.5 V361.2 H193.3 V381.0 H205.8 V400.6 H213.9 V440.2 H218.4 V460" fill="none" stroke="#2D4F8E" stroke-width="1.45"/>
<path d="M184.4,341.5 V361.2 H188.6 V400.9 H196.9 V440.2 H201.3 V460" fill="none" stroke="#B3092F" stroke-width="1.45"/>
<path d="M45.2,341.5 H243.8 V365.2 H256.5 V389.1 H264.5 V412.8 H277.6 V460" fill="none" stroke="#BB7A2C" stroke-width="1.45"/>
<text transform="translate(200.10,375.60) scale(0.9259,1)" font-size="9.07" text-anchor="middle" fill="#231F20" stroke="#231F20" stroke-width="0.1" >*</text>
<text transform="translate(247.40,360.20) scale(0.9259,1)" font-size="8.42" text-anchor="start" fill="#231F20" stroke="#231F20" stroke-width="0.1" font-style="italic">**, ##</text>
<line x1="49.90" y1="383.00" x2="58.80" y2="383.00" stroke="#5EA6E0" stroke-width="1.3" />
<line x1="54.30" y1="380.80" x2="54.30" y2="383.00" stroke="#5EA6E0" stroke-width="0.9" />
<text transform="translate(62.20,384.00) scale(0.9259,1)" font-size="8.21" text-anchor="start" fill="#231F20" stroke="#231F20" stroke-width="0.1" >Vehicle</text>
<line x1="49.90" y1="395.75" x2="58.80" y2="395.75" stroke="#B3092F" stroke-width="1.3" />
<line x1="54.30" y1="393.55" x2="54.30" y2="395.75" stroke="#B3092F" stroke-width="0.9" />
<text transform="translate(62.20,396.75) scale(0.9259,1)" font-size="8.21" text-anchor="start" fill="#231F20" stroke="#231F20" stroke-width="0.1" >ONX-0914</text>
<line x1="49.90" y1="408.50" x2="58.80" y2="408.50" stroke="#2D4F8E" stroke-width="1.3" />
<line x1="54.30" y1="406.30" x2="54.30" y2="408.50" stroke="#2D4F8E" stroke-width="0.9" />
<text transform="translate(62.20,409.50) scale(0.9259,1)" font-size="8.21" text-anchor="start" fill="#231F20" stroke="#231F20" stroke-width="0.1" >Btz</text>
<line x1="49.90" y1="421.25" x2="58.80" y2="421.25" stroke="#BB7A2C" stroke-width="1.3" />
<line x1="54.30" y1="419.05" x2="54.30" y2="421.25" stroke="#BB7A2C" stroke-width="0.9" />
<text transform="translate(62.20,422.25) scale(0.9259,1)" font-size="8.21" text-anchor="start" fill="#231F20" stroke="#231F20" stroke-width="0.1" >Btz + ONX-0914</text>
<line x1="65.80" y1="474.00" x2="65.80" y2="485.80" stroke="#231F20" stroke-width="1.3" />
<path d="M63.10,475.6 L65.80,469.3 L68.50,475.6 L65.80,474.4 Z" fill="#231F20"/>
<line x1="79.10" y1="474.00" x2="79.10" y2="485.80" stroke="#231F20" stroke-width="1.3" />
<path d="M76.40,475.6 L79.10,469.3 L81.80,475.6 L79.10,474.4 Z" fill="#231F20"/>
<line x1="96.10" y1="474.00" x2="96.10" y2="485.80" stroke="#231F20" stroke-width="1.3" />
<path d="M93.40,475.6 L96.10,469.3 L98.80,475.6 L96.10,474.4 Z" fill="#231F20"/>
<line x1="109.80" y1="474.00" x2="109.80" y2="485.80" stroke="#231F20" stroke-width="1.3" />
<path d="M107.10,475.6 L109.80,469.3 L112.50,475.6 L109.80,474.4 Z" fill="#231F20"/>
<line x1="139.40" y1="474.00" x2="139.40" y2="485.80" stroke="#231F20" stroke-width="1.3" />
<path d="M136.70,475.6 L139.40,469.3 L142.10,475.6 L139.40,474.4 Z" fill="#231F20"/>
<line x1="154.50" y1="474.00" x2="154.50" y2="485.80" stroke="#231F20" stroke-width="1.3" />
<path d="M151.80,475.6 L154.50,469.3 L157.20,475.6 L154.50,474.4 Z" fill="#231F20"/>
<line x1="168.00" y1="474.00" x2="168.00" y2="485.80" stroke="#231F20" stroke-width="1.3" />
<path d="M165.30,475.6 L168.00,469.3 L170.70,475.6 L168.00,474.4 Z" fill="#231F20"/>
<line x1="183.00" y1="474.00" x2="183.00" y2="485.80" stroke="#231F20" stroke-width="1.3" />
<path d="M180.30,475.6 L183.00,469.3 L185.70,475.6 L183.00,474.4 Z" fill="#231F20"/>
<path d="M123.10,483.6 L125.70,478.2 L128.30,483.6 L125.70,482.4 Z" fill="#231F20"/>
<line x1="63.80" y1="493.50" x2="67.80" y2="493.50" stroke="#444" stroke-width="0.7" />
<line x1="65.80" y1="491.50" x2="65.80" y2="495.50" stroke="#444" stroke-width="0.7" />
<line x1="77.10" y1="493.50" x2="81.10" y2="493.50" stroke="#444" stroke-width="0.7" />
<line x1="79.10" y1="491.50" x2="79.10" y2="495.50" stroke="#444" stroke-width="0.7" />
<line x1="94.10" y1="493.50" x2="98.10" y2="493.50" stroke="#444" stroke-width="0.7" />
<line x1="96.10" y1="491.50" x2="96.10" y2="495.50" stroke="#444" stroke-width="0.7" />
<line x1="107.80" y1="493.50" x2="111.80" y2="493.50" stroke="#444" stroke-width="0.7" />
<line x1="109.80" y1="491.50" x2="109.80" y2="495.50" stroke="#444" stroke-width="0.7" />
<line x1="123.70" y1="493.50" x2="127.70" y2="493.50" stroke="#444" stroke-width="0.7" />
<line x1="125.70" y1="491.50" x2="125.70" y2="495.50" stroke="#444" stroke-width="0.7" />
<line x1="137.40" y1="493.50" x2="141.40" y2="493.50" stroke="#444" stroke-width="0.7" />
<line x1="139.40" y1="491.50" x2="139.40" y2="495.50" stroke="#444" stroke-width="0.7" />
<line x1="152.50" y1="493.50" x2="156.50" y2="493.50" stroke="#444" stroke-width="0.7" />
<line x1="154.50" y1="491.50" x2="154.50" y2="495.50" stroke="#444" stroke-width="0.7" />
<line x1="166.00" y1="493.50" x2="170.00" y2="493.50" stroke="#444" stroke-width="0.7" />
<line x1="168.00" y1="491.50" x2="168.00" y2="495.50" stroke="#444" stroke-width="0.7" />
<line x1="181.00" y1="493.50" x2="185.00" y2="493.50" stroke="#444" stroke-width="0.7" />
<line x1="183.00" y1="491.50" x2="183.00" y2="495.50" stroke="#444" stroke-width="0.7" />
<text transform="translate(65.80,508.80) scale(0.9259,1)" font-size="8.53" text-anchor="middle" fill="#231F20" stroke="#231F20" stroke-width="0.1" >0</text>
<text transform="translate(79.10,508.80) scale(0.9259,1)" font-size="8.53" text-anchor="middle" fill="#231F20" stroke="#231F20" stroke-width="0.1" >2.5</text>
<text transform="translate(96.10,508.80) scale(0.9259,1)" font-size="8.53" text-anchor="middle" fill="#231F20" stroke="#231F20" stroke-width="0.1" >5</text>
<text transform="translate(109.80,508.80) scale(0.9259,1)" font-size="8.53" text-anchor="middle" fill="#231F20" stroke="#231F20" stroke-width="0.1" >10</text>
<text transform="translate(125.70,508.80) scale(0.9259,1)" font-size="8.53" text-anchor="middle" fill="#231F20" stroke="#231F20" stroke-width="0.1" >15</text>
<text transform="translate(139.40,508.80) scale(0.9259,1)" font-size="8.53" text-anchor="middle" fill="#231F20" stroke="#231F20" stroke-width="0.1" >15</text>
<text transform="translate(154.50,508.80) scale(0.9259,1)" font-size="8.53" text-anchor="middle" fill="#231F20" stroke="#231F20" stroke-width="0.1" >15</text>
<text transform="translate(168.00,508.80) scale(0.9259,1)" font-size="8.53" text-anchor="middle" fill="#231F20" stroke="#231F20" stroke-width="0.1" >15</text>
<text transform="translate(183.00,508.80) scale(0.9259,1)" font-size="8.53" text-anchor="middle" fill="#231F20" stroke="#231F20" stroke-width="0.1" >15</text>
<text transform="translate(206.20,495.00) scale(0.9259,1)" font-size="8.96" text-anchor="start" fill="#231F20" stroke="#231F20" stroke-width="0.1" >0.5 mg/kg Btz</text>
<text transform="translate(212.40,508.80) scale(0.9259,1)" font-size="8.86" text-anchor="start" fill="#231F20" stroke="#231F20" stroke-width="0.1" >mg/kg&#160; ONX</text>
<line x1="353.60" y1="348.10" x2="353.60" y2="460.50" stroke="#231F20" stroke-width="1.2" />
<line x1="349.70" y1="460.00" x2="510.50" y2="460.00" stroke="#231F20" stroke-width="1.2" />
<line x1="349.70" y1="460.00" x2="353.60" y2="460.00" stroke="#231F20" stroke-width="1.0" />
<text transform="translate(346.80,463.10) scale(0.9259,1)" font-size="9.29" text-anchor="end" fill="#231F20" stroke="#231F20" stroke-width="0.1" >70</text>
<line x1="349.70" y1="438.10" x2="353.60" y2="438.10" stroke="#231F20" stroke-width="1.0" />
<text transform="translate(346.80,441.20) scale(0.9259,1)" font-size="9.29" text-anchor="end" fill="#231F20" stroke="#231F20" stroke-width="0.1" >80</text>
<line x1="349.70" y1="416.20" x2="353.60" y2="416.20" stroke="#231F20" stroke-width="1.0" />
<text transform="translate(346.80,419.30) scale(0.9259,1)" font-size="9.29" text-anchor="end" fill="#231F20" stroke="#231F20" stroke-width="0.1" >90</text>
<line x1="349.70" y1="394.30" x2="353.60" y2="394.30" stroke="#231F20" stroke-width="1.0" />
<text transform="translate(346.80,397.40) scale(0.9259,1)" font-size="9.29" text-anchor="end" fill="#231F20" stroke="#231F20" stroke-width="0.1" >100</text>
<line x1="349.70" y1="372.40" x2="353.60" y2="372.40" stroke="#231F20" stroke-width="1.0" />
<text transform="translate(346.80,375.50) scale(0.9259,1)" font-size="9.29" text-anchor="end" fill="#231F20" stroke="#231F20" stroke-width="0.1" >110</text>
<line x1="349.70" y1="350.50" x2="353.60" y2="350.50" stroke="#231F20" stroke-width="1.0" />
<text transform="translate(346.80,353.60) scale(0.9259,1)" font-size="9.29" text-anchor="end" fill="#231F20" stroke="#231F20" stroke-width="0.1" >120</text>
<line x1="353.50" y1="460.00" x2="353.50" y2="464.00" stroke="#231F20" stroke-width="1.0" />
<line x1="368.84" y1="460.00" x2="368.84" y2="462.60" stroke="#231F20" stroke-width="1.0" />
<line x1="384.18" y1="460.00" x2="384.18" y2="464.00" stroke="#231F20" stroke-width="1.0" />
<line x1="399.52" y1="460.00" x2="399.52" y2="462.60" stroke="#231F20" stroke-width="1.0" />
<line x1="414.86" y1="460.00" x2="414.86" y2="464.00" stroke="#231F20" stroke-width="1.0" />
<line x1="430.20" y1="460.00" x2="430.20" y2="462.60" stroke="#231F20" stroke-width="1.0" />
<line x1="445.54" y1="460.00" x2="445.54" y2="464.00" stroke="#231F20" stroke-width="1.0" />
<line x1="460.88" y1="460.00" x2="460.88" y2="462.60" stroke="#231F20" stroke-width="1.0" />
<line x1="476.22" y1="460.00" x2="476.22" y2="464.00" stroke="#231F20" stroke-width="1.0" />
<line x1="491.56" y1="460.00" x2="491.56" y2="462.60" stroke="#231F20" stroke-width="1.0" />
<line x1="506.90" y1="460.00" x2="506.90" y2="464.00" stroke="#231F20" stroke-width="1.0" />
<text transform="translate(353.50,474.70) scale(0.9259,1)" font-size="8.53" text-anchor="middle" fill="#231F20" stroke="#231F20" stroke-width="0.1" >0</text>
<text transform="translate(384.18,474.70) scale(0.9259,1)" font-size="8.53" text-anchor="middle" fill="#231F20" stroke="#231F20" stroke-width="0.1" >10</text>
<text transform="translate(414.86,474.70) scale(0.9259,1)" font-size="8.53" text-anchor="middle" fill="#231F20" stroke="#231F20" stroke-width="0.1" >20</text>
<text transform="translate(445.54,474.70) scale(0.9259,1)" font-size="8.53" text-anchor="middle" fill="#231F20" stroke="#231F20" stroke-width="0.1" >30</text>
<text transform="translate(476.22,474.70) scale(0.9259,1)" font-size="8.53" text-anchor="middle" fill="#231F20" stroke="#231F20" stroke-width="0.1" >40</text>
<text transform="translate(506.90,474.70) scale(0.9259,1)" font-size="8.53" text-anchor="middle" fill="#231F20" stroke="#231F20" stroke-width="0.1" >50</text>
<text x="0" y="0" font-size="10.60" text-anchor="middle" fill="#231F20" stroke="#231F20" stroke-width="0.1" transform="translate(325.30,395.20) rotate(-90) scale(0.9434,1)">Weight (% of d5)</text>
<text transform="translate(431.70,487.50) scale(0.9434,1)" font-size="10.60" text-anchor="middle" fill="#231F20" stroke="#231F20" stroke-width="0.1" >Day</text>
<line x1="377.90" y1="390.00" x2="377.90" y2="400.60" stroke="#C4894A" stroke-width="1.2" />
<line x1="374.90" y1="390.00" x2="380.90" y2="390.00" stroke="#C4894A" stroke-width="1.2" />
<line x1="374.90" y1="400.60" x2="380.90" y2="400.60" stroke="#C4894A" stroke-width="1.2" />
<line x1="390.40" y1="384.00" x2="390.40" y2="395.00" stroke="#C4894A" stroke-width="1.2" />
<line x1="387.40" y1="384.00" x2="393.40" y2="384.00" stroke="#C4894A" stroke-width="1.2" />
<line x1="387.40" y1="395.00" x2="393.40" y2="395.00" stroke="#C4894A" stroke-width="1.2" />
<line x1="399.60" y1="380.00" x2="399.60" y2="397.10" stroke="#C4894A" stroke-width="1.2" />
<line x1="396.60" y1="380.00" x2="402.60" y2="380.00" stroke="#C4894A" stroke-width="1.2" />
<line x1="396.60" y1="397.10" x2="402.60" y2="397.10" stroke="#C4894A" stroke-width="1.2" />
<line x1="414.90" y1="375.00" x2="414.90" y2="401.00" stroke="#C4894A" stroke-width="1.2" />
<line x1="411.90" y1="375.00" x2="417.90" y2="375.00" stroke="#C4894A" stroke-width="1.2" />
<line x1="411.90" y1="401.00" x2="417.90" y2="401.00" stroke="#C4894A" stroke-width="1.2" />
<line x1="433.10" y1="386.00" x2="433.10" y2="400.00" stroke="#C4894A" stroke-width="1.2" />
<line x1="430.10" y1="386.00" x2="436.10" y2="386.00" stroke="#C4894A" stroke-width="1.2" />
<line x1="430.10" y1="400.00" x2="436.10" y2="400.00" stroke="#C4894A" stroke-width="1.2" />
<line x1="442.50" y1="378.00" x2="442.50" y2="390.00" stroke="#C4894A" stroke-width="1.2" />
<line x1="439.50" y1="378.00" x2="445.50" y2="378.00" stroke="#C4894A" stroke-width="1.2" />
<line x1="439.50" y1="390.00" x2="445.50" y2="390.00" stroke="#C4894A" stroke-width="1.2" />
<line x1="455.10" y1="370.30" x2="455.10" y2="410.90" stroke="#C4894A" stroke-width="1.2" />
<line x1="452.10" y1="370.30" x2="458.10" y2="370.30" stroke="#C4894A" stroke-width="1.2" />
<line x1="452.10" y1="410.90" x2="458.10" y2="410.90" stroke="#C4894A" stroke-width="1.2" />
<line x1="466.90" y1="365.60" x2="466.90" y2="390.20" stroke="#C4894A" stroke-width="1.2" />
<line x1="463.90" y1="365.60" x2="469.90" y2="365.60" stroke="#C4894A" stroke-width="1.2" />
<line x1="463.90" y1="390.20" x2="469.90" y2="390.20" stroke="#C4894A" stroke-width="1.2" />
<line x1="482.20" y1="360.80" x2="482.20" y2="377.70" stroke="#C4894A" stroke-width="1.2" />
<line x1="479.20" y1="360.80" x2="485.20" y2="360.80" stroke="#C4894A" stroke-width="1.2" />
<line x1="479.20" y1="377.70" x2="485.20" y2="377.70" stroke="#C4894A" stroke-width="1.2" />
<line x1="497.80" y1="360.80" x2="497.80" y2="387.60" stroke="#C4894A" stroke-width="1.2" />
<line x1="494.80" y1="360.80" x2="500.80" y2="360.80" stroke="#C4894A" stroke-width="1.2" />
<line x1="494.80" y1="387.60" x2="500.80" y2="387.60" stroke="#C4894A" stroke-width="1.2" />
<line x1="507.00" y1="360.80" x2="507.00" y2="387.10" stroke="#C4894A" stroke-width="1.2" />
<line x1="504.00" y1="360.80" x2="510.00" y2="360.80" stroke="#C4894A" stroke-width="1.2" />
<line x1="504.00" y1="387.10" x2="510.00" y2="387.10" stroke="#C4894A" stroke-width="1.2" />
<polyline points="368.90,394.60 377.90,395.20 390.40,389.40 399.60,388.50 414.90,388.50 433.10,392.80 442.50,383.80 455.10,390.50 466.90,377.70 482.20,368.50 497.80,374.30 507.00,373.70" fill="none" stroke="#A8661E" stroke-width="1.7" stroke-linejoin="round"/>
<rect x="365.80" y="391.50" width="6.20" height="6.20" fill="#A8661E" />
<rect x="374.80" y="392.10" width="6.20" height="6.20" fill="#A8661E" />
<rect x="387.30" y="386.30" width="6.20" height="6.20" fill="#A8661E" />
<rect x="396.50" y="385.40" width="6.20" height="6.20" fill="#A8661E" />
<rect x="411.80" y="385.40" width="6.20" height="6.20" fill="#A8661E" />
<rect x="430.00" y="389.70" width="6.20" height="6.20" fill="#A8661E" />
<rect x="439.40" y="380.70" width="6.20" height="6.20" fill="#A8661E" />
<rect x="452.00" y="387.40" width="6.20" height="6.20" fill="#A8661E" />
<rect x="463.80" y="374.60" width="6.20" height="6.20" fill="#A8661E" />
<rect x="479.10" y="365.40" width="6.20" height="6.20" fill="#A8661E" />
<rect x="494.70" y="371.20" width="6.20" height="6.20" fill="#A8661E" />
<rect x="503.90" y="370.60" width="6.20" height="6.20" fill="#A8661E" />
<polyline points="368.90,394.60 377.90,391.30 390.40,387.50 399.60,382.30 414.90,384.20 421.20,389.00 433.10,385.00 442.50,393.40 455.10,395.00" fill="none" stroke="#B10A36" stroke-width="1.7" stroke-linejoin="round"/>
<path d="M365.30,396.90 L368.90,390.90 L372.50,396.90 Z" fill="#B10A36"/>
<path d="M374.30,393.60 L377.90,387.60 L381.50,393.60 Z" fill="#B10A36"/>
<path d="M386.80,389.80 L390.40,383.80 L394.00,389.80 Z" fill="#B10A36"/>
<path d="M396.00,384.60 L399.60,378.60 L403.20,384.60 Z" fill="#B10A36"/>
<path d="M411.30,386.50 L414.90,380.50 L418.50,386.50 Z" fill="#B10A36"/>
<path d="M417.60,391.30 L421.20,385.30 L424.80,391.30 Z" fill="#B10A36"/>
<path d="M429.50,387.30 L433.10,381.30 L436.70,387.30 Z" fill="#B10A36"/>
<path d="M438.90,395.70 L442.50,389.70 L446.10,395.70 Z" fill="#B10A36"/>
<path d="M451.50,397.30 L455.10,391.30 L458.70,397.30 Z" fill="#B10A36"/>
<line x1="377.90" y1="383.70" x2="377.90" y2="387.50" stroke="#74B4EA" stroke-width="1.2" />
<line x1="374.90" y1="383.70" x2="380.90" y2="383.70" stroke="#74B4EA" stroke-width="1.2" />
<line x1="374.90" y1="387.50" x2="380.90" y2="387.50" stroke="#74B4EA" stroke-width="1.2" />
<line x1="390.40" y1="370.60" x2="390.40" y2="391.00" stroke="#74B4EA" stroke-width="1.2" />
<line x1="387.40" y1="370.60" x2="393.40" y2="370.60" stroke="#74B4EA" stroke-width="1.2" />
<line x1="387.40" y1="391.00" x2="393.40" y2="391.00" stroke="#74B4EA" stroke-width="1.2" />
<line x1="399.60" y1="371.20" x2="399.60" y2="385.80" stroke="#74B4EA" stroke-width="1.2" />
<line x1="396.60" y1="371.20" x2="402.60" y2="371.20" stroke="#74B4EA" stroke-width="1.2" />
<line x1="396.60" y1="385.80" x2="402.60" y2="385.80" stroke="#74B4EA" stroke-width="1.2" />
<line x1="414.90" y1="367.30" x2="414.90" y2="389.70" stroke="#74B4EA" stroke-width="1.2" />
<line x1="411.90" y1="367.30" x2="417.90" y2="367.30" stroke="#74B4EA" stroke-width="1.2" />
<line x1="411.90" y1="389.70" x2="417.90" y2="389.70" stroke="#74B4EA" stroke-width="1.2" />
<line x1="433.10" y1="371.20" x2="433.10" y2="389.60" stroke="#74B4EA" stroke-width="1.2" />
<line x1="430.10" y1="371.20" x2="436.10" y2="371.20" stroke="#74B4EA" stroke-width="1.2" />
<line x1="430.10" y1="389.60" x2="436.10" y2="389.60" stroke="#74B4EA" stroke-width="1.2" />
<line x1="442.50" y1="366.80" x2="442.50" y2="378.20" stroke="#74B4EA" stroke-width="1.2" />
<line x1="439.50" y1="366.80" x2="445.50" y2="366.80" stroke="#74B4EA" stroke-width="1.2" />
<line x1="439.50" y1="378.20" x2="445.50" y2="378.20" stroke="#74B4EA" stroke-width="1.2" />
<polyline points="368.90,394.60 377.90,385.60 390.40,380.80 399.60,378.50 414.90,378.50 433.10,380.40 442.50,372.50" fill="none" stroke="#6AAEE6" stroke-width="1.7" stroke-linejoin="round"/>
<circle cx="368.90" cy="394.60" r="3.4" fill="#6AAEE6"/>
<circle cx="377.90" cy="385.60" r="3.4" fill="#6AAEE6"/>
<circle cx="390.40" cy="380.80" r="3.4" fill="#6AAEE6"/>
<circle cx="399.60" cy="378.50" r="3.4" fill="#6AAEE6"/>
<circle cx="414.90" cy="378.50" r="3.4" fill="#6AAEE6"/>
<circle cx="433.10" cy="380.40" r="3.4" fill="#6AAEE6"/>
<circle cx="442.50" cy="372.50" r="3.4" fill="#6AAEE6"/>
<polyline points="368.90,395.20 377.90,387.50 390.40,385.20 399.60,378.50 414.90,389.40 421.20,381.70 433.10,380.80 442.50,375.50 455.10,377.20 462.00,391.60 466.70,395.40" fill="none" stroke="#2B4C8C" stroke-width="1.7" stroke-linejoin="round"/>
<path d="M365.30,392.90 L368.90,398.90 L372.50,392.90 Z" fill="#2B4C8C"/>
<path d="M374.30,385.20 L377.90,391.20 L381.50,385.20 Z" fill="#2B4C8C"/>
<path d="M386.80,382.90 L390.40,388.90 L394.00,382.90 Z" fill="#2B4C8C"/>
<path d="M396.00,376.20 L399.60,382.20 L403.20,376.20 Z" fill="#2B4C8C"/>
<path d="M411.30,387.10 L414.90,393.10 L418.50,387.10 Z" fill="#2B4C8C"/>
<path d="M417.60,379.40 L421.20,385.40 L424.80,379.40 Z" fill="#2B4C8C"/>
<path d="M429.50,378.50 L433.10,384.50 L436.70,378.50 Z" fill="#2B4C8C"/>
<path d="M438.90,373.20 L442.50,379.20 L446.10,373.20 Z" fill="#2B4C8C"/>
<path d="M451.50,374.90 L455.10,380.90 L458.70,374.90 Z" fill="#2B4C8C"/>
<path d="M458.40,389.30 L462.00,395.30 L465.60,389.30 Z" fill="#2B4C8C"/>
<path d="M463.10,393.10 L466.70,399.10 L470.30,393.10 Z" fill="#2B4C8C"/>
<line x1="358.10" y1="414.20" x2="371.20" y2="414.20" stroke="#6AAEE6" stroke-width="1.5" />
<circle cx="364.8" cy="414.20" r="3.4" fill="#6AAEE6"/>
<text transform="translate(374.00,416.90) scale(0.9259,1)" font-size="8.21" text-anchor="start" fill="#231F20" stroke="#231F20" stroke-width="0.1" >Vehicle</text>
<line x1="358.10" y1="426.85" x2="371.20" y2="426.85" stroke="#B10A36" stroke-width="1.5" />
<path d="M361.20,429.15 L364.80,423.15 L368.40,429.15 Z" fill="#B10A36"/>
<text transform="translate(374.00,429.55) scale(0.9259,1)" font-size="8.21" text-anchor="start" fill="#231F20" stroke="#231F20" stroke-width="0.1" >ONX-0914</text>
<line x1="358.10" y1="439.50" x2="371.20" y2="439.50" stroke="#2B4C8C" stroke-width="1.5" />
<path d="M361.20,437.20 L364.80,443.20 L368.40,437.20 Z" fill="#2B4C8C"/>
<text transform="translate(374.00,442.20) scale(0.9259,1)" font-size="8.21" text-anchor="start" fill="#231F20" stroke="#231F20" stroke-width="0.1" >Btz</text>
<line x1="358.10" y1="452.15" x2="371.20" y2="452.15" stroke="#A8661E" stroke-width="1.5" />
<rect x="361.70" y="449.05" width="6.20" height="6.20" fill="#A8661E" />
<text transform="translate(374.00,454.85) scale(0.9259,1)" font-size="8.21" text-anchor="start" fill="#231F20" stroke="#231F20" stroke-width="0.1" >ONX-0914 + Btz</text>
<rect x="63.80" y="520.10" width="313.60" height="30.50" fill="url(#g1)" stroke="#555" stroke-width="1.1"/>
<rect x="63.80" y="520.10" width="313.60" height="30.50" fill="url(#g1h)" />
<g filter="url(#bl1)" opacity="0.22">
<rect x="70.30" y="521.60" width="5.6" height="7.50" fill="#ffffff"/>
<rect x="83.40" y="521.60" width="5.6" height="8.30" fill="#ffffff"/>
<rect x="99.00" y="521.60" width="5.6" height="8.50" fill="#ffffff"/>
<rect x="112.60" y="521.60" width="5.6" height="8.50" fill="#ffffff"/>
<rect x="127.20" y="521.60" width="5.6" height="8.90" fill="#ffffff"/>
<rect x="141.80" y="521.60" width="5.6" height="9.40" fill="#ffffff"/>
<rect x="173.40" y="521.60" width="5.6" height="11.40" fill="#ffffff"/>
<rect x="187.20" y="521.60" width="5.6" height="11.70" fill="#ffffff"/>
<rect x="202.80" y="521.60" width="5.6" height="13.90" fill="#ffffff"/>
<rect x="218.00" y="521.60" width="5.6" height="14.40" fill="#ffffff"/>
<rect x="232.20" y="521.60" width="5.6" height="15.10" fill="#ffffff"/>
<rect x="259.50" y="521.60" width="5.6" height="15.40" fill="#ffffff"/>
<rect x="273.40" y="521.60" width="5.6" height="17.40" fill="#ffffff"/>
<rect x="288.40" y="521.60" width="5.6" height="18.40" fill="#ffffff"/>
<rect x="302.90" y="521.60" width="5.6" height="18.90" fill="#ffffff"/>
<rect x="317.20" y="521.60" width="5.6" height="20.40" fill="#ffffff"/>
<rect x="332.10" y="521.60" width="5.6" height="21.90" fill="#ffffff"/>
<rect x="347.20" y="521.60" width="5.6" height="21.90" fill="#ffffff"/>
<rect x="361.80" y="521.60" width="5.6" height="22.70" fill="#ffffff"/>
</g>
<g filter="url(#bl2)">
<path d="M68.10,529.60 C70.35,532.52 71.60,533.50 73.10,533.50 C74.60,533.50 75.85,532.52 78.10,529.60 Q73.10,528.60 68.10,529.60 Z" fill="#ffffff"/>
<path d="M81.20,530.40 C83.45,534.98 84.70,536.50 86.20,536.50 C87.70,536.50 88.95,534.98 91.20,530.40 Q86.20,529.40 81.20,530.40 Z" fill="#ffffff"/>
<path d="M96.80,530.60 C99.05,535.40 100.30,537.00 101.80,537.00 C103.30,537.00 104.55,535.40 106.80,530.60 Q101.80,529.60 96.80,530.60 Z" fill="#ffffff"/>
<path d="M110.40,530.60 C112.65,535.40 113.90,537.00 115.40,537.00 C116.90,537.00 118.15,535.40 120.40,530.60 Q115.40,529.60 110.40,530.60 Z" fill="#ffffff"/>
<path d="M125.00,531.00 C127.25,535.65 128.50,537.20 130.00,537.20 C131.50,537.20 132.75,535.65 135.00,531.00 Q130.00,530.00 125.00,531.00 Z" fill="#ffffff"/>
<path d="M139.60,531.50 C141.85,536.00 143.10,537.50 144.60,537.50 C146.10,537.50 147.35,536.00 149.60,531.50 Q144.60,530.50 139.60,531.50 Z" fill="#ffffff"/>
<path d="M171.20,533.50 C173.45,538.67 174.70,540.40 176.20,540.40 C177.70,540.40 178.95,538.67 181.20,533.50 Q176.20,532.50 171.20,533.50 Z" fill="#ffffff"/>
<path d="M185.00,533.80 C187.25,538.60 188.50,540.20 190.00,540.20 C191.50,540.20 192.75,538.60 195.00,533.80 Q190.00,532.80 185.00,533.80 Z" fill="#ffffff"/>
<path d="M200.60,536.00 C202.85,540.95 204.10,542.60 205.60,542.60 C207.10,542.60 208.35,540.95 210.60,536.00 Q205.60,535.00 200.60,536.00 Z" fill="#ffffff"/>
<path d="M215.80,536.50 C218.05,540.47 219.30,541.80 220.80,541.80 C222.30,541.80 223.55,540.47 225.80,536.50 Q220.80,535.50 215.80,536.50 Z" fill="#ffffff"/>
<path d="M230.00,537.20 C232.25,541.25 233.50,542.60 235.00,542.60 C236.50,542.60 237.75,541.25 240.00,537.20 Q235.00,536.20 230.00,537.20 Z" fill="#ffffff"/>
<path d="M257.30,537.50 C259.55,540.88 260.80,542.00 262.30,542.00 C263.80,542.00 265.05,540.88 267.30,537.50 Q262.30,536.50 257.30,537.50 Z" fill="#ffffff"/>
<path d="M271.20,539.50 C273.45,543.25 274.70,544.50 276.20,544.50 C277.70,544.50 278.95,543.25 281.20,539.50 Q276.20,538.50 271.20,539.50 Z" fill="#ffffff"/>
<path d="M286.20,540.50 C288.45,543.50 289.70,544.50 291.20,544.50 C292.70,544.50 293.95,543.50 296.20,540.50 Q291.20,539.50 286.20,540.50 Z" fill="#ffffff"/>
<path d="M300.70,541.00 C302.95,544.75 304.20,546.00 305.70,546.00 C307.20,546.00 308.45,544.75 310.70,541.00 Q305.70,540.00 300.70,541.00 Z" fill="#ffffff"/>
<path d="M315.00,542.50 C317.25,545.12 318.50,546.00 320.00,546.00 C321.50,546.00 322.75,545.12 325.00,542.50 Q320.00,541.50 315.00,542.50 Z" fill="#ffffff"/>
<path d="M329.90,544.00 C332.15,547.00 333.40,548.00 334.90,548.00 C336.40,548.00 337.65,547.00 339.90,544.00 Q334.90,543.00 329.90,544.00 Z" fill="#ffffff"/>
<path d="M345.00,544.00 C347.25,547.00 348.50,548.00 350.00,548.00 C351.50,548.00 352.75,547.00 355.00,544.00 Q350.00,543.00 345.00,544.00 Z" fill="#ffffff"/>
<path d="M359.60,544.80 C361.85,547.58 363.10,548.50 364.60,548.50 C366.10,548.50 367.35,547.58 369.60,544.80 Q364.60,543.80 359.60,544.80 Z" fill="#ffffff"/>
</g>
<path d="M69.20,529.90 C70.95,532.00 71.93,532.70 73.10,532.70 C74.27,532.70 75.24,532.00 77.00,529.90 Q73.10,528.90 69.20,529.90 Z" fill="#ffffff"/>
<path d="M82.30,530.70 C84.06,534.45 85.03,535.70 86.20,535.70 C87.37,535.70 88.34,534.45 90.10,530.70 Q86.20,529.70 82.30,530.70 Z" fill="#ffffff"/>
<path d="M97.90,530.90 C99.66,534.88 100.63,536.20 101.80,536.20 C102.97,536.20 103.94,534.88 105.70,530.90 Q101.80,529.90 97.90,530.90 Z" fill="#ffffff"/>
<path d="M111.50,530.90 C113.26,534.88 114.23,536.20 115.40,536.20 C116.57,536.20 117.55,534.88 119.30,530.90 Q115.40,529.90 111.50,530.90 Z" fill="#ffffff"/>
<path d="M126.10,531.30 C127.86,535.12 128.83,536.40 130.00,536.40 C131.17,536.40 132.15,535.12 133.90,531.30 Q130.00,530.30 126.10,531.30 Z" fill="#ffffff"/>
<path d="M140.70,531.80 C142.45,535.48 143.43,536.70 144.60,536.70 C145.77,536.70 146.75,535.48 148.50,531.80 Q144.60,530.80 140.70,531.80 Z" fill="#ffffff"/>
<path d="M172.30,533.80 C174.05,538.15 175.03,539.60 176.20,539.60 C177.37,539.60 178.34,538.15 180.10,533.80 Q176.20,532.80 172.30,533.80 Z" fill="#ffffff"/>
<path d="M186.10,534.10 C187.85,538.08 188.83,539.40 190.00,539.40 C191.17,539.40 192.15,538.08 193.90,534.10 Q190.00,533.10 186.10,534.10 Z" fill="#ffffff"/>
<path d="M201.70,536.30 C203.45,540.43 204.43,541.80 205.60,541.80 C206.77,541.80 207.75,540.43 209.50,536.30 Q205.60,535.30 201.70,536.30 Z" fill="#ffffff"/>
<path d="M216.90,536.80 C218.66,539.95 219.63,541.00 220.80,541.00 C221.97,541.00 222.95,539.95 224.70,536.80 Q220.80,535.80 216.90,536.80 Z" fill="#ffffff"/>
<path d="M231.10,537.50 C232.85,540.73 233.83,541.80 235.00,541.80 C236.17,541.80 237.15,540.73 238.90,537.50 Q235.00,536.50 231.10,537.50 Z" fill="#ffffff"/>
<path d="M258.40,537.80 C260.16,540.35 261.13,541.20 262.30,541.20 C263.47,541.20 264.44,540.35 266.20,537.80 Q262.30,536.80 258.40,537.80 Z" fill="#ffffff"/>
<path d="M272.30,539.80 C274.06,542.73 275.03,543.70 276.20,543.70 C277.37,543.70 278.34,542.73 280.10,539.80 Q276.20,538.80 272.30,539.80 Z" fill="#ffffff"/>
<path d="M287.30,540.80 C289.06,542.98 290.03,543.70 291.20,543.70 C292.37,543.70 293.34,542.98 295.10,540.80 Q291.20,539.80 287.30,540.80 Z" fill="#ffffff"/>
<path d="M301.80,541.30 C303.56,544.23 304.53,545.20 305.70,545.20 C306.87,545.20 307.84,544.23 309.60,541.30 Q305.70,540.30 301.80,541.30 Z" fill="#ffffff"/>
<path d="M316.10,542.80 C317.86,544.60 318.83,545.20 320.00,545.20 C321.17,545.20 322.14,544.60 323.90,542.80 Q320.00,541.80 316.10,542.80 Z" fill="#ffffff"/>
<path d="M331.00,544.30 C332.75,546.48 333.73,547.20 334.90,547.20 C336.07,547.20 337.04,546.48 338.80,544.30 Q334.90,543.30 331.00,544.30 Z" fill="#ffffff"/>
<path d="M346.10,544.30 C347.86,546.48 348.83,547.20 350.00,547.20 C351.17,547.20 352.14,546.48 353.90,544.30 Q350.00,543.30 346.10,544.30 Z" fill="#ffffff"/>
<path d="M360.70,545.10 C362.46,547.05 363.43,547.70 364.60,547.70 C365.77,547.70 366.75,547.05 368.50,545.10 Q364.60,544.10 360.70,545.10 Z" fill="#ffffff"/>
<g filter="url(#bl3)">
<ellipse cx="86.40" cy="524.90" rx="2.70" ry="2.00" fill="#111" opacity="0.95"/>
<ellipse cx="102.30" cy="525.80" rx="2.00" ry="1.20" fill="#111" opacity="0.5"/>
<ellipse cx="115.70" cy="525.80" rx="2.60" ry="1.50" fill="#111" opacity="0.8"/>
<ellipse cx="130.00" cy="526.00" rx="2.00" ry="1.20" fill="#111" opacity="0.45"/>
<ellipse cx="145.10" cy="526.50" rx="2.00" ry="1.50" fill="#111" opacity="0.8"/>
<ellipse cx="176.60" cy="528.00" rx="2.30" ry="2.00" fill="#111" opacity="1.0"/>
<ellipse cx="189.20" cy="528.50" rx="2.00" ry="1.00" fill="#111" opacity="0.3"/>
<ellipse cx="206.50" cy="529.40" rx="2.30" ry="2.00" fill="#111" opacity="1.0"/>
<ellipse cx="221.50" cy="530.00" rx="2.00" ry="1.00" fill="#111" opacity="0.25"/>
<ellipse cx="235.00" cy="530.00" rx="2.90" ry="1.70" fill="#111" opacity="0.95"/>
<ellipse cx="263.00" cy="532.70" rx="2.00" ry="1.10" fill="#111" opacity="0.4"/>
<ellipse cx="276.60" cy="533.80" rx="2.20" ry="1.30" fill="#111" opacity="0.55"/>
<ellipse cx="292.30" cy="534.70" rx="2.00" ry="1.00" fill="#111" opacity="0.3"/>
<ellipse cx="306.20" cy="535.50" rx="2.20" ry="1.90" fill="#111" opacity="1.0"/>
<ellipse cx="335.80" cy="537.30" rx="2.40" ry="1.90" fill="#111" opacity="1.0"/>
<ellipse cx="365.80" cy="539.30" rx="2.90" ry="2.00" fill="#111" opacity="1.0"/>
<ellipse cx="73.00" cy="523.40" rx="2.00" ry="0.80" fill="#111" opacity="0.25"/>
</g>
<ellipse cx="86.40" cy="524.90" rx="1.67" ry="1.24" fill="#0a0a0a"/>
<ellipse cx="176.60" cy="528.00" rx="1.43" ry="1.24" fill="#0a0a0a"/>
<ellipse cx="206.50" cy="529.40" rx="1.43" ry="1.24" fill="#0a0a0a"/>
<ellipse cx="235.00" cy="530.00" rx="1.80" ry="1.05" fill="#0a0a0a"/>
<ellipse cx="306.20" cy="535.50" rx="1.36" ry="1.18" fill="#0a0a0a"/>
<ellipse cx="335.80" cy="537.30" rx="1.49" ry="1.18" fill="#0a0a0a"/>
<ellipse cx="365.80" cy="539.30" rx="1.80" ry="1.24" fill="#0a0a0a"/>
<text transform="translate(380.80,538.00) scale(0.9259,1)" font-size="8.64" text-anchor="start" fill="#231F20" stroke="#231F20" stroke-width="0.1" >Igλ</text>
<text transform="translate(69.00,562.00) scale(0.9259,1)" font-size="8.10" text-anchor="middle" fill="#231F20" stroke="#231F20" stroke-width="0.1" >30</text>
<text transform="translate(83.30,562.00) scale(0.9259,1)" font-size="8.10" text-anchor="middle" fill="#231F20" stroke="#231F20" stroke-width="0.1" >33</text>
<line x1="63.80" y1="565.40" x2="91.10" y2="565.40" stroke="#231F20" stroke-width="1.0" />
<text transform="translate(100.80,562.00) scale(0.9259,1)" font-size="8.10" text-anchor="middle" fill="#231F20" stroke="#231F20" stroke-width="0.1" >30</text>
<text transform="translate(115.00,562.00) scale(0.9259,1)" font-size="8.10" text-anchor="middle" fill="#231F20" stroke="#231F20" stroke-width="0.1" >34</text>
<line x1="95.70" y1="565.40" x2="123.10" y2="565.40" stroke="#231F20" stroke-width="1.0" />
<text transform="translate(130.00,562.00) scale(0.9259,1)" font-size="8.10" text-anchor="middle" fill="#231F20" stroke="#231F20" stroke-width="0.1" >30</text>
<text transform="translate(143.90,562.00) scale(0.9259,1)" font-size="8.10" text-anchor="middle" fill="#231F20" stroke="#231F20" stroke-width="0.1" >35</text>
<line x1="128.00" y1="565.40" x2="147.70" y2="565.40" stroke="#231F20" stroke-width="1.0" />
<text transform="translate(160.00,562.00) scale(0.9259,1)" font-size="8.10" text-anchor="middle" fill="#231F20" stroke="#231F20" stroke-width="0.1" >30</text>
<text transform="translate(173.80,562.00) scale(0.9259,1)" font-size="8.10" text-anchor="middle" fill="#231F20" stroke="#231F20" stroke-width="0.1" >34</text>
<line x1="159.20" y1="565.40" x2="178.80" y2="565.40" stroke="#231F20" stroke-width="1.0" />
<text transform="translate(189.00,562.00) scale(0.9259,1)" font-size="8.10" text-anchor="middle" fill="#231F20" stroke="#231F20" stroke-width="0.1" >30</text>
<text transform="translate(203.30,562.00) scale(0.9259,1)" font-size="8.10" text-anchor="middle" fill="#231F20" stroke="#231F20" stroke-width="0.1" >36</text>
<line x1="186.90" y1="565.40" x2="206.50" y2="565.40" stroke="#231F20" stroke-width="1.0" />
<text transform="translate(220.80,562.00) scale(0.9259,1)" font-size="8.10" text-anchor="middle" fill="#231F20" stroke="#231F20" stroke-width="0.1" >30</text>
<text transform="translate(234.40,562.00) scale(0.9259,1)" font-size="8.10" text-anchor="middle" fill="#231F20" stroke="#231F20" stroke-width="0.1" >37</text>
<line x1="220.30" y1="565.40" x2="239.70" y2="565.40" stroke="#231F20" stroke-width="1.0" />
<text transform="translate(262.10,562.00) scale(0.9259,1)" font-size="8.10" text-anchor="middle" fill="#231F20" stroke="#231F20" stroke-width="0.1" >30</text>
<text transform="translate(276.40,562.00) scale(0.9259,1)" font-size="8.10" text-anchor="middle" fill="#231F20" stroke="#231F20" stroke-width="0.1" >34</text>
<line x1="263.10" y1="565.40" x2="282.30" y2="565.40" stroke="#231F20" stroke-width="1.0" />
<text transform="translate(290.80,562.00) scale(0.9259,1)" font-size="8.10" text-anchor="middle" fill="#231F20" stroke="#231F20" stroke-width="0.1" >30</text>
<text transform="translate(305.00,562.00) scale(0.9259,1)" font-size="8.10" text-anchor="middle" fill="#231F20" stroke="#231F20" stroke-width="0.1" >38</text>
<line x1="290.30" y1="565.40" x2="309.70" y2="565.40" stroke="#231F20" stroke-width="1.0" />
<text transform="translate(319.00,562.00) scale(0.9259,1)" font-size="8.10" text-anchor="middle" fill="#231F20" stroke="#231F20" stroke-width="0.1" >30</text>
<text transform="translate(333.10,562.00) scale(0.9259,1)" font-size="8.10" text-anchor="middle" fill="#231F20" stroke="#231F20" stroke-width="0.1" >40</text>
<line x1="318.00" y1="565.40" x2="337.70" y2="565.40" stroke="#231F20" stroke-width="1.0" />
<text transform="translate(350.20,562.00) scale(0.9259,1)" font-size="8.10" text-anchor="middle" fill="#231F20" stroke="#231F20" stroke-width="0.1" >30</text>
<text transform="translate(363.20,562.00) scale(0.9259,1)" font-size="8.10" text-anchor="middle" fill="#231F20" stroke="#231F20" stroke-width="0.1" >41</text>
<line x1="348.20" y1="565.40" x2="367.70" y2="565.40" stroke="#231F20" stroke-width="1.0" />
<line x1="63.40" y1="577.70" x2="144.60" y2="577.70" stroke="#231F20" stroke-width="1.3" />
<line x1="155.10" y1="577.70" x2="246.20" y2="577.70" stroke="#231F20" stroke-width="1.3" />
<line x1="262.30" y1="577.70" x2="376.90" y2="577.70" stroke="#231F20" stroke-width="1.3" />
<text transform="translate(104.00,588.50) scale(0.9259,1)" font-size="8.32" text-anchor="middle" fill="#231F20" stroke="#231F20" stroke-width="0.1" >Vehicle</text>
<text transform="translate(209.20,588.50) scale(0.9259,1)" font-size="8.21" text-anchor="middle" fill="#231F20" stroke="#231F20" stroke-width="0.1" >ONX-0914</text>
<text transform="translate(316.10,588.50) scale(0.9259,1)" font-size="8.32" text-anchor="middle" fill="#231F20" stroke="#231F20" stroke-width="0.1" >Btz</text>
<rect x="66.90" y="600.80" width="201.60" height="17.50" fill="url(#g2)" stroke="#555" stroke-width="1.1"/>
<g filter="url(#bl3)" fill="#101010">
<path d="M76.4,609.0 C77.8,610.0 79.8,611.6 80.7,613.2 C80.0,615.2 78.2,617.2 76.8,617.9 C75.2,617.2 73.2,615.4 72.5,613.6 C73.4,611.6 75.0,610.0 76.4,609.0 Z" transform="translate(76.60,613.45) scale(1.15) translate(-76.60,-613.45)"/>
<path d="M88.0,609.6 L92.6,609.3 C94.0,610.4 95.3,611.8 95.4,613.2 C95.2,615.0 94.2,616.8 92.6,617.7 L89.0,617.8 C87.6,617.0 86.3,615.2 86.2,613.5 C86.6,611.8 87.0,610.5 88.0,609.6 Z" transform="translate(90.80,613.55) scale(1.1) translate(-90.80,-613.55)"/>
<path d="M102.6,611.6 C103.2,610.2 104.8,609.7 106.2,609.8 C107.4,610.2 108.4,611.0 108.4,611.8 C107.6,613.0 106.2,613.8 104.8,613.8 C103.6,613.4 102.8,612.6 102.6,611.6 Z" transform="translate(105.50,611.75) scale(1.1) translate(-105.50,-611.75)"/>
<path d="M119.4,606.4 C121.0,607.6 122.8,609.0 123.3,611.0 C123.4,613.6 122.6,616.4 121.4,617.9 L118.2,617.9 C116.8,616.2 116.1,613.6 116.2,611.2 C116.8,609.2 118.0,607.6 119.4,606.4 Z" transform="translate(119.75,612.15) scale(1.08) translate(-119.75,-612.15)"/>
<path d="M145.3,607.0 C147.0,606.5 149.8,606.5 151.5,607.2 C151.4,609.6 150.2,612.2 148.6,613.6 C146.9,612.6 145.5,609.8 145.3,607.0 Z" transform="translate(148.40,610.05) scale(1.08) translate(-148.40,-610.05)"/>
<path d="M160.4,605.3 C162.0,605.6 163.8,606.6 164.8,608.0 C165.6,609.6 166.4,611.0 165.6,612.2 C165.0,614.2 163.6,616.0 162.0,616.3 C160.2,615.6 158.8,613.4 158.2,611.2 C158.2,609.0 158.9,606.8 160.4,605.3 Z" transform="translate(162.30,610.80) scale(1.05) translate(-162.30,-610.80)"/>
<path d="M187.4,606.6 C188.4,605.4 191.8,605.2 193.1,606.4 C193.4,608.0 192.0,610.2 190.4,611.3 C188.8,610.4 187.4,608.4 187.4,606.6 Z" transform="translate(190.40,608.25) scale(1.08) translate(-190.40,-608.25)"/>
<path d="M200.6,606.2 C202.4,605.4 205.0,604.6 207.2,604.6 C207.4,606.6 207.2,608.4 206.6,609.9 C204.6,609.6 202.2,608.6 200.6,607.8 Z" transform="translate(204.00,607.25) scale(1.05) translate(-204.00,-607.25)"/>
<path d="M253.0,605.0 C254.4,603.0 258.0,602.8 261.0,603.2 C263.2,603.4 265.2,604.6 265.2,606.2 C264.2,607.8 263.0,609.2 261.8,610.4 C259.6,611.8 256.6,611.9 254.6,610.8 C253.4,609.2 252.8,607.0 253.0,605.0 Z" transform="translate(259.00,607.35) scale(1.03) translate(-259.00,-607.35)"/>
</g>
<path d="M76.4,609.0 C77.8,610.0 79.8,611.6 80.7,613.2 C80.0,615.2 78.2,617.2 76.8,617.9 C75.2,617.2 73.2,615.4 72.5,613.6 C73.4,611.6 75.0,610.0 76.4,609.0 Z" fill="#151515" transform="translate(76.60,613.45) scale(1.15) translate(-76.60,-613.45)"/>
<path d="M88.0,609.6 L92.6,609.3 C94.0,610.4 95.3,611.8 95.4,613.2 C95.2,615.0 94.2,616.8 92.6,617.7 L89.0,617.8 C87.6,617.0 86.3,615.2 86.2,613.5 C86.6,611.8 87.0,610.5 88.0,609.6 Z" fill="#151515" transform="translate(90.80,613.55) scale(1.1) translate(-90.80,-613.55)"/>
<path d="M102.6,611.6 C103.2,610.2 104.8,609.7 106.2,609.8 C107.4,610.2 108.4,611.0 108.4,611.8 C107.6,613.0 106.2,613.8 104.8,613.8 C103.6,613.4 102.8,612.6 102.6,611.6 Z" fill="#151515" transform="translate(105.50,611.75) scale(1.1) translate(-105.50,-611.75)"/>
<path d="M119.4,606.4 C121.0,607.6 122.8,609.0 123.3,611.0 C123.4,613.6 122.6,616.4 121.4,617.9 L118.2,617.9 C116.8,616.2 116.1,613.6 116.2,611.2 C116.8,609.2 118.0,607.6 119.4,606.4 Z" fill="#151515" transform="translate(119.75,612.15) scale(1.08) translate(-119.75,-612.15)"/>
<path d="M145.3,607.0 C147.0,606.5 149.8,606.5 151.5,607.2 C151.4,609.6 150.2,612.2 148.6,613.6 C146.9,612.6 145.5,609.8 145.3,607.0 Z" fill="#151515" transform="translate(148.40,610.05) scale(1.08) translate(-148.40,-610.05)"/>
<path d="M160.4,605.3 C162.0,605.6 163.8,606.6 164.8,608.0 C165.6,609.6 166.4,611.0 165.6,612.2 C165.0,614.2 163.6,616.0 162.0,616.3 C160.2,615.6 158.8,613.4 158.2,611.2 C158.2,609.0 158.9,606.8 160.4,605.3 Z" fill="#151515" transform="translate(162.30,610.80) scale(1.05) translate(-162.30,-610.80)"/>
<path d="M187.4,606.6 C188.4,605.4 191.8,605.2 193.1,606.4 C193.4,608.0 192.0,610.2 190.4,611.3 C188.8,610.4 187.4,608.4 187.4,606.6 Z" fill="#151515" transform="translate(190.40,608.25) scale(1.08) translate(-190.40,-608.25)"/>
<path d="M200.6,606.2 C202.4,605.4 205.0,604.6 207.2,604.6 C207.4,606.6 207.2,608.4 206.6,609.9 C204.6,609.6 202.2,608.6 200.6,607.8 Z" fill="#151515" transform="translate(204.00,607.25) scale(1.05) translate(-204.00,-607.25)"/>
<path d="M253.0,605.0 C254.4,603.0 258.0,602.8 261.0,603.2 C263.2,603.4 265.2,604.6 265.2,606.2 C264.2,607.8 263.0,609.2 261.8,610.4 C259.6,611.8 256.6,611.9 254.6,610.8 C253.4,609.2 252.8,607.0 253.0,605.0 Z" fill="#151515" transform="translate(259.00,607.35) scale(1.03) translate(-259.00,-607.35)"/>
<g filter="url(#bl3)">
<ellipse cx="176.20" cy="608.20" rx="1.80" ry="1.00" fill="#0c0c0c" opacity="0.3"/>
<ellipse cx="228.70" cy="606.20" rx="1.80" ry="1.00" fill="#0c0c0c" opacity="0.22"/>
<ellipse cx="242.60" cy="605.90" rx="2.60" ry="1.50" fill="#0c0c0c" opacity="0.8"/>
<ellipse cx="98.00" cy="607.00" rx="0.70" ry="0.70" fill="#0c0c0c" opacity="0.6"/>
<ellipse cx="96.20" cy="614.60" rx="1.00" ry="1.40" fill="#0c0c0c" opacity="0.35"/>
</g>
<text transform="translate(274.80,612.80) scale(0.9259,1)" font-size="8.64" text-anchor="start" fill="#231F20" stroke="#231F20" stroke-width="0.1" >Igλ</text>
<text transform="translate(75.80,628.50) scale(0.9259,1)" font-size="8.21" text-anchor="middle" fill="#231F20" stroke="#231F20" stroke-width="0.1" >30</text>
<text transform="translate(89.60,628.50) scale(0.9259,1)" font-size="8.21" text-anchor="middle" fill="#231F20" stroke="#231F20" stroke-width="0.1" >34</text>
<text transform="translate(104.60,628.50) scale(0.9259,1)" font-size="8.21" text-anchor="middle" fill="#231F20" stroke="#231F20" stroke-width="0.1" >30</text>
<text transform="translate(118.80,628.50) scale(0.9259,1)" font-size="8.21" text-anchor="middle" fill="#231F20" stroke="#231F20" stroke-width="0.1" >38</text>
<text transform="translate(134.80,628.50) scale(0.9259,1)" font-size="8.21" text-anchor="middle" fill="#231F20" stroke="#231F20" stroke-width="0.1" >30</text>
<text transform="translate(148.70,628.50) scale(0.9259,1)" font-size="8.21" text-anchor="middle" fill="#231F20" stroke="#231F20" stroke-width="0.1" >43</text>
<text transform="translate(162.70,628.50) scale(0.9259,1)" font-size="8.21" text-anchor="middle" fill="#231F20" stroke="#231F20" stroke-width="0.1" >50</text>
<text transform="translate(176.20,628.50) scale(0.9259,1)" font-size="8.21" text-anchor="middle" fill="#231F20" stroke="#231F20" stroke-width="0.1" >30</text>
<text transform="translate(190.20,628.50) scale(0.9259,1)" font-size="8.21" text-anchor="middle" fill="#231F20" stroke="#231F20" stroke-width="0.1" >43</text>
<text transform="translate(203.70,628.50) scale(0.9259,1)" font-size="8.21" text-anchor="middle" fill="#231F20" stroke="#231F20" stroke-width="0.1" >52</text>
<text transform="translate(228.70,628.50) scale(0.9259,1)" font-size="8.21" text-anchor="middle" fill="#231F20" stroke="#231F20" stroke-width="0.1" >30</text>
<text transform="translate(242.70,628.50) scale(0.9259,1)" font-size="8.21" text-anchor="middle" fill="#231F20" stroke="#231F20" stroke-width="0.1" >43</text>
<text transform="translate(256.90,628.50) scale(0.9259,1)" font-size="8.21" text-anchor="middle" fill="#231F20" stroke="#231F20" stroke-width="0.1" >55</text>
<text transform="translate(267.70,628.50) scale(0.9259,1)" font-size="8.42" text-anchor="start" fill="#231F20" stroke="#231F20" stroke-width="0.1" >Day</text>
<line x1="70.00" y1="631.80" x2="96.20" y2="631.80" stroke="#231F20" stroke-width="1.25" />
<line x1="100.30" y1="631.80" x2="123.10" y2="631.80" stroke="#231F20" stroke-width="1.25" />
<line x1="130.00" y1="631.80" x2="164.20" y2="631.80" stroke="#231F20" stroke-width="1.25" />
<line x1="171.90" y1="631.80" x2="207.90" y2="631.80" stroke="#231F20" stroke-width="1.25" />
<line x1="226.20" y1="631.80" x2="260.00" y2="631.80" stroke="#231F20" stroke-width="1.25" />
<line x1="70.00" y1="635.90" x2="96.20" y2="635.90" stroke="#231F20" stroke-width="1.6" />
<line x1="103.00" y1="635.90" x2="123.10" y2="635.90" stroke="#231F20" stroke-width="1.6" />
<line x1="131.00" y1="635.90" x2="262.70" y2="635.90" stroke="#231F20" stroke-width="1.6" />
<text transform="translate(80.20,645.80) scale(0.9259,1)" font-size="8.21" text-anchor="middle" fill="#231F20" stroke="#231F20" stroke-width="0.1" >ONX-0914</text>
<text transform="translate(113.10,645.80) scale(0.9259,1)" font-size="8.21" text-anchor="middle" fill="#231F20" stroke="#231F20" stroke-width="0.1" >Btz</text>
<text transform="translate(197.00,645.80) scale(0.9259,1)" font-size="8.21" text-anchor="middle" fill="#231F20" stroke="#231F20" stroke-width="0.1" >ONX-0914 + Btz</text>
<line x1="0.00" y1="0.60" x2="520.00" y2="0.60" stroke="#1a1a1a" stroke-width="1.2" />
<line x1="0.65" y1="0.00" x2="0.65" y2="655.00" stroke="#111" stroke-width="1.3" />
<line x1="519.25" y1="0.00" x2="519.25" y2="655.00" stroke="#111" stroke-width="1.5" />
<line x1="0.00" y1="654.25" x2="520.00" y2="654.25" stroke="#111" stroke-width="1.5" />
</svg></body></html>
